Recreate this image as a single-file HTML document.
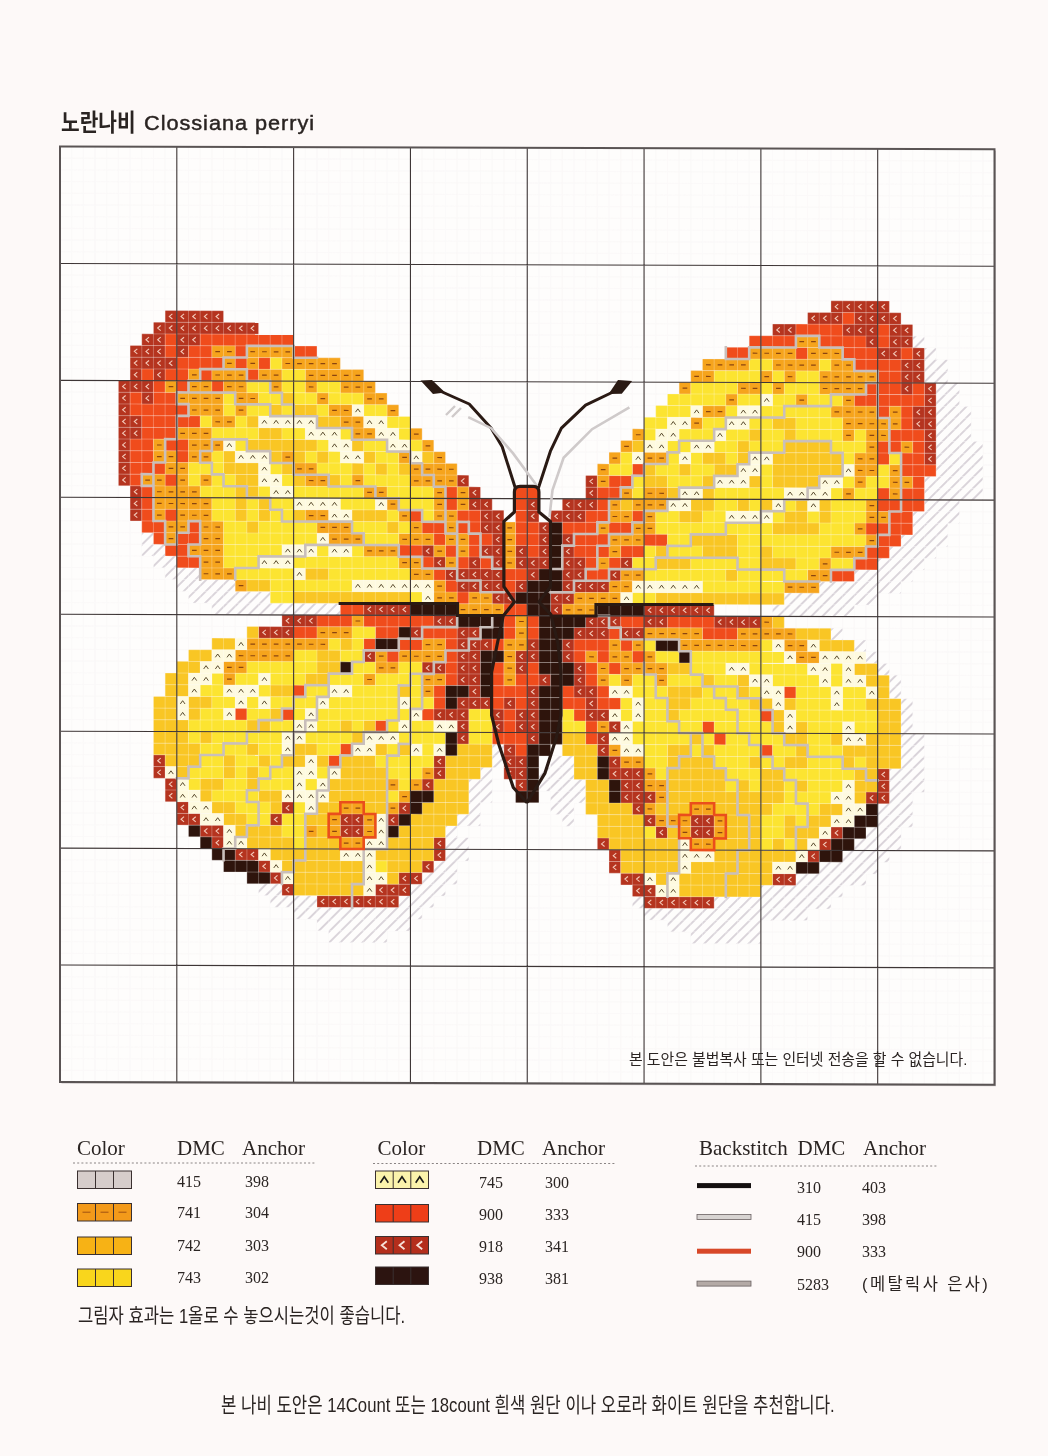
<!DOCTYPE html>
<html><head><meta charset="utf-8">
<style>
html,body{margin:0;padding:0;}
body{width:1048px;height:1456px;background:#fdf9f8;position:relative;overflow:hidden;}
.t{position:absolute;white-space:nowrap;color:#2a2422;}
.kr{font-family:"Liberation Sans","Noto Sans CJK KR",sans-serif;}
.stk{-webkit-text-stroke:0.45px #2a2422;}
.sf{font-family:"Liberation Serif","Noto Serif CJK SC",serif;}
svg{position:absolute;left:0;top:0;}
</style></head><body>
<svg width="1048" height="1456" viewBox="0 0 1048 1456">
<defs>
<pattern id="hp" patternUnits="userSpaceOnUse" width="7.8" height="7.8" patternTransform="rotate(-45)">
<rect width="7.8" height="7.8" fill="#fefdfc"/><line x1="0" y1="3.9" x2="7.8" y2="3.9" stroke="#cfc8d0" stroke-width="1.5"/>
</pattern>
</defs>
<g transform="translate(60.0,146.5) matrix(1,0.003,0,1,0,0)">
<rect x="1.5" y="1.5" width="934.50" height="935.50" fill="#c9c4c4"/>
<rect x="0" y="0" width="934.50" height="935.50" fill="#fefdfc"/>
<path d="M11.68 0V935.50M0 11.69H934.50M23.36 0V935.50M0 23.39H934.50M35.04 0V935.50M0 35.08H934.50M46.73 0V935.50M0 46.77H934.50M58.41 0V935.50M0 58.47H934.50M70.09 0V935.50M0 70.16H934.50M81.77 0V935.50M0 81.86H934.50M93.45 0V935.50M0 93.55H934.50M105.13 0V935.50M0 105.24H934.50M128.49 0V935.50M0 128.63H934.50M140.18 0V935.50M0 140.32H934.50M151.86 0V935.50M0 152.02H934.50M163.54 0V935.50M0 163.71H934.50M175.22 0V935.50M0 175.41H934.50M186.90 0V935.50M0 187.10H934.50M198.58 0V935.50M0 198.79H934.50M210.26 0V935.50M0 210.49H934.50M221.94 0V935.50M0 222.18H934.50M245.31 0V935.50M0 245.57H934.50M256.99 0V935.50M0 257.26H934.50M268.67 0V935.50M0 268.96H934.50M280.35 0V935.50M0 280.65H934.50M292.03 0V935.50M0 292.34H934.50M303.71 0V935.50M0 304.04H934.50M315.39 0V935.50M0 315.73H934.50M327.07 0V935.50M0 327.43H934.50M338.76 0V935.50M0 339.12H934.50M362.12 0V935.50M0 362.51H934.50M373.80 0V935.50M0 374.20H934.50M385.48 0V935.50M0 385.89H934.50M397.16 0V935.50M0 397.59H934.50M408.84 0V935.50M0 409.28H934.50M420.53 0V935.50M0 420.97H934.50M432.21 0V935.50M0 432.67H934.50M443.89 0V935.50M0 444.36H934.50M455.57 0V935.50M0 456.06H934.50M478.93 0V935.50M0 479.44H934.50M490.61 0V935.50M0 491.14H934.50M502.29 0V935.50M0 502.83H934.50M513.98 0V935.50M0 514.52H934.50M525.66 0V935.50M0 526.22H934.50M537.34 0V935.50M0 537.91H934.50M549.02 0V935.50M0 549.61H934.50M560.70 0V935.50M0 561.30H934.50M572.38 0V935.50M0 572.99H934.50M595.74 0V935.50M0 596.38H934.50M607.43 0V935.50M0 608.07H934.50M619.11 0V935.50M0 619.77H934.50M630.79 0V935.50M0 631.46H934.50M642.47 0V935.50M0 643.16H934.50M654.15 0V935.50M0 654.85H934.50M665.83 0V935.50M0 666.54H934.50M677.51 0V935.50M0 678.24H934.50M689.19 0V935.50M0 689.93H934.50M712.56 0V935.50M0 713.32H934.50M724.24 0V935.50M0 725.01H934.50M735.92 0V935.50M0 736.71H934.50M747.60 0V935.50M0 748.40H934.50M759.28 0V935.50M0 760.09H934.50M770.96 0V935.50M0 771.79H934.50M782.64 0V935.50M0 783.48H934.50M794.33 0V935.50M0 795.17H934.50M806.01 0V935.50M0 806.87H934.50M829.37 0V935.50M0 830.26H934.50M841.05 0V935.50M0 841.95H934.50M852.73 0V935.50M0 853.64H934.50M864.41 0V935.50M0 865.34H934.50M876.09 0V935.50M0 877.03H934.50M887.77 0V935.50M0 888.73H934.50M899.46 0V935.50M0 900.42H934.50M911.14 0V935.50M0 912.11H934.50M922.82 0V935.50M0 923.81H934.50" stroke="#f6f3f3" stroke-width="0.6" fill="none"/>
<g fill="url(#hp)"><rect x="852.73" y="187.10" width="11.68" height="11.69"/><rect x="864.41" y="198.79" width="11.68" height="11.69"/><rect x="864.41" y="210.49" width="23.36" height="11.69"/><rect x="864.41" y="222.18" width="23.36" height="11.69"/><rect x="876.09" y="233.88" width="23.36" height="11.69"/><rect x="876.09" y="245.57" width="23.36" height="11.69"/><rect x="876.09" y="257.26" width="35.04" height="11.69"/><rect x="876.09" y="268.96" width="35.04" height="11.69"/><rect x="876.09" y="280.65" width="35.04" height="11.69"/><rect x="876.09" y="292.34" width="46.73" height="11.69"/><rect x="876.09" y="304.04" width="46.73" height="11.69"/><rect x="876.09" y="315.73" width="46.73" height="11.69"/><rect x="864.41" y="327.43" width="58.41" height="11.69"/><rect x="864.41" y="339.12" width="58.41" height="11.69"/><rect x="864.41" y="350.81" width="35.04" height="11.69"/><rect x="852.73" y="362.51" width="46.73" height="11.69"/><rect x="852.73" y="374.20" width="35.04" height="11.69"/><rect x="81.77" y="385.89" width="11.68" height="11.69"/><rect x="841.05" y="385.89" width="46.72" height="11.69"/><rect x="81.77" y="397.59" width="23.36" height="11.69"/><rect x="829.37" y="397.59" width="46.73" height="11.69"/><rect x="93.45" y="409.28" width="23.36" height="11.69"/><rect x="817.69" y="409.28" width="46.73" height="11.69"/><rect x="105.13" y="420.97" width="35.04" height="11.69"/><rect x="794.33" y="420.97" width="58.41" height="11.69"/><rect x="116.81" y="432.67" width="58.41" height="11.69"/><rect x="759.28" y="432.67" width="81.77" height="11.69"/><rect x="128.49" y="444.36" width="81.77" height="11.69"/><rect x="724.24" y="444.36" width="93.45" height="11.69"/><rect x="151.86" y="456.06" width="128.49" height="11.69"/><rect x="712.56" y="456.06" width="81.77" height="11.69"/><rect x="770.96" y="479.44" width="11.68" height="11.69"/><rect x="794.33" y="491.14" width="11.68" height="11.69"/><rect x="806.01" y="502.83" width="11.68" height="11.69"/><rect x="817.69" y="514.52" width="11.68" height="11.69"/><rect x="829.37" y="526.22" width="11.68" height="11.69"/><rect x="829.37" y="537.91" width="11.68" height="11.69"/><rect x="841.05" y="549.61" width="11.68" height="11.69"/><rect x="841.05" y="561.30" width="11.68" height="11.69"/><rect x="841.05" y="572.99" width="11.68" height="11.69"/><rect x="841.05" y="584.69" width="23.36" height="11.69"/><rect x="432.21" y="596.38" width="11.68" height="11.69"/><rect x="841.05" y="596.38" width="23.36" height="11.69"/><rect x="432.21" y="608.07" width="11.68" height="11.69"/><rect x="490.61" y="608.07" width="23.36" height="11.69"/><rect x="841.05" y="608.07" width="23.36" height="11.69"/><rect x="420.53" y="619.77" width="11.68" height="11.69"/><rect x="478.93" y="619.77" width="35.04" height="11.69"/><rect x="829.37" y="619.77" width="35.04" height="11.69"/><rect x="408.84" y="631.46" width="23.36" height="11.69"/><rect x="478.93" y="631.46" width="46.72" height="11.69"/><rect x="829.37" y="631.46" width="35.04" height="11.69"/><rect x="408.84" y="643.16" width="23.36" height="11.69"/><rect x="490.61" y="643.16" width="35.04" height="11.69"/><rect x="829.37" y="643.16" width="23.36" height="11.69"/><rect x="408.84" y="654.85" width="11.68" height="11.69"/><rect x="490.61" y="654.85" width="23.36" height="11.69"/><rect x="817.69" y="654.85" width="35.04" height="11.69"/><rect x="397.16" y="666.54" width="23.36" height="11.69"/><rect x="502.29" y="666.54" width="11.68" height="11.69"/><rect x="817.69" y="666.54" width="35.04" height="11.69"/><rect x="385.48" y="678.24" width="11.68" height="11.69"/><rect x="806.01" y="678.24" width="35.04" height="11.69"/><rect x="385.48" y="689.93" width="23.36" height="11.69"/><rect x="794.33" y="689.93" width="46.73" height="11.69"/><rect x="385.48" y="701.62" width="23.36" height="11.69"/><rect x="782.64" y="701.62" width="46.72" height="11.69"/><rect x="373.80" y="713.32" width="23.36" height="11.69"/><rect x="759.28" y="713.32" width="58.41" height="11.69"/><rect x="362.12" y="725.01" width="35.04" height="11.69"/><rect x="735.92" y="725.01" width="70.09" height="11.69"/><rect x="198.58" y="736.71" width="23.36" height="11.69"/><rect x="350.44" y="736.71" width="35.04" height="11.69"/><rect x="700.88" y="736.71" width="81.77" height="11.69"/><rect x="210.26" y="748.40" width="46.72" height="11.69"/><rect x="338.76" y="748.40" width="35.04" height="11.69"/><rect x="572.38" y="748.40" width="11.68" height="11.69"/><rect x="654.15" y="748.40" width="116.81" height="11.69"/><rect x="233.62" y="760.09" width="128.49" height="11.69"/><rect x="584.06" y="760.09" width="163.54" height="11.69"/><rect x="256.99" y="771.79" width="93.45" height="11.69"/><rect x="607.43" y="771.79" width="93.45" height="11.69"/><rect x="268.67" y="783.48" width="58.41" height="11.69"/><rect x="630.79" y="783.48" width="70.09" height="11.69"/></g>
<g fill="#b5341f"><rect x="105.13" y="163.71" width="58.41" height="11.69"/><rect x="747.60" y="163.71" width="35.04" height="11.69"/><rect x="794.33" y="163.71" width="46.73" height="11.69"/><rect x="93.45" y="175.41" width="105.13" height="11.69"/><rect x="712.56" y="175.41" width="23.36" height="11.69"/><rect x="782.64" y="175.41" width="35.04" height="11.69"/><rect x="829.37" y="175.41" width="23.36" height="11.69"/><rect x="81.77" y="187.10" width="23.36" height="11.69"/><rect x="116.81" y="187.10" width="23.36" height="11.69"/><rect x="806.01" y="187.10" width="11.68" height="11.69"/><rect x="829.37" y="187.10" width="23.36" height="11.69"/><rect x="70.09" y="198.79" width="35.04" height="11.69"/><rect x="116.81" y="198.79" width="11.68" height="11.69"/><rect x="817.69" y="198.79" width="23.36" height="11.69"/><rect x="852.73" y="198.79" width="11.68" height="11.69"/><rect x="70.09" y="210.49" width="46.72" height="11.69"/><rect x="841.05" y="210.49" width="23.36" height="11.69"/><rect x="70.09" y="222.18" width="11.68" height="11.69"/><rect x="93.45" y="222.18" width="11.68" height="11.69"/><rect x="841.05" y="222.18" width="23.36" height="11.69"/><rect x="58.41" y="233.88" width="35.04" height="11.69"/><rect x="841.05" y="233.88" width="11.68" height="11.69"/><rect x="864.41" y="233.88" width="11.68" height="11.69"/><rect x="58.41" y="245.57" width="11.68" height="11.69"/><rect x="81.77" y="245.57" width="11.68" height="11.69"/><rect x="864.41" y="245.57" width="11.68" height="11.69"/><rect x="58.41" y="257.26" width="11.68" height="11.69"/><rect x="852.73" y="257.26" width="23.36" height="11.69"/><rect x="58.41" y="268.96" width="23.36" height="11.69"/><rect x="852.73" y="268.96" width="23.36" height="11.69"/><rect x="58.41" y="280.65" width="23.36" height="11.69"/><rect x="864.41" y="280.65" width="11.68" height="11.69"/><rect x="58.41" y="292.34" width="11.68" height="11.69"/><rect x="864.41" y="292.34" width="11.68" height="11.69"/><rect x="58.41" y="304.04" width="11.68" height="11.69"/><rect x="864.41" y="304.04" width="11.68" height="11.69"/><rect x="58.41" y="315.73" width="11.68" height="11.69"/><rect x="58.41" y="327.43" width="11.68" height="11.69"/><rect x="397.16" y="327.43" width="11.68" height="11.69"/><rect x="525.66" y="327.43" width="11.68" height="11.69"/><rect x="70.09" y="339.12" width="11.68" height="11.69"/><rect x="408.84" y="339.12" width="11.68" height="11.69"/><rect x="525.66" y="339.12" width="11.68" height="11.69"/><rect x="770.96" y="152.02" width="58.41" height="11.69"/><rect x="70.09" y="350.81" width="11.68" height="11.69"/><rect x="408.84" y="350.81" width="23.36" height="11.69"/><rect x="467.25" y="350.81" width="11.68" height="11.69"/><rect x="502.29" y="350.81" width="35.04" height="11.69"/><rect x="70.09" y="362.51" width="11.68" height="11.69"/><rect x="420.53" y="362.51" width="23.36" height="11.69"/><rect x="467.25" y="362.51" width="11.68" height="11.69"/><rect x="490.61" y="362.51" width="35.04" height="11.69"/><rect x="420.53" y="374.20" width="23.36" height="11.69"/><rect x="478.93" y="374.20" width="11.68" height="11.69"/><rect x="432.21" y="385.89" width="11.68" height="11.69"/><rect x="478.93" y="385.89" width="11.68" height="11.69"/><rect x="502.29" y="385.89" width="11.68" height="11.69"/><rect x="362.12" y="397.59" width="11.68" height="11.69"/><rect x="420.53" y="397.59" width="23.36" height="11.69"/><rect x="455.57" y="397.59" width="11.68" height="11.69"/><rect x="478.93" y="397.59" width="11.68" height="11.69"/><rect x="502.29" y="397.59" width="11.68" height="11.69"/><rect x="373.80" y="409.28" width="11.68" height="11.69"/><rect x="408.84" y="409.28" width="11.68" height="11.69"/><rect x="432.21" y="409.28" width="11.68" height="11.69"/><rect x="455.57" y="409.28" width="35.04" height="11.69"/><rect x="502.29" y="409.28" width="23.36" height="11.69"/><rect x="560.70" y="409.28" width="11.68" height="11.69"/><rect x="385.48" y="420.97" width="58.41" height="11.69"/><rect x="467.25" y="420.97" width="11.68" height="11.69"/><rect x="502.29" y="420.97" width="23.36" height="11.69"/><rect x="549.02" y="420.97" width="11.68" height="11.69"/><rect x="397.16" y="432.67" width="46.72" height="11.69"/><rect x="455.57" y="432.67" width="11.68" height="11.69"/><rect x="502.29" y="432.67" width="46.73" height="11.69"/><rect x="432.21" y="444.36" width="23.36" height="11.69"/><rect x="490.61" y="444.36" width="23.36" height="11.69"/><rect x="303.71" y="456.06" width="46.72" height="11.69"/><rect x="490.61" y="456.06" width="11.68" height="11.69"/><rect x="584.06" y="456.06" width="70.09" height="11.69"/><rect x="221.94" y="467.75" width="35.04" height="11.69"/><rect x="373.80" y="467.75" width="23.36" height="11.69"/><rect x="525.66" y="467.75" width="35.04" height="11.69"/><rect x="584.06" y="467.75" width="23.36" height="11.69"/><rect x="654.15" y="467.75" width="46.73" height="11.69"/><rect x="198.58" y="479.44" width="35.04" height="11.69"/><rect x="350.44" y="479.44" width="11.68" height="11.69"/><rect x="397.16" y="479.44" width="23.36" height="11.69"/><rect x="513.98" y="479.44" width="35.04" height="11.69"/><rect x="560.70" y="479.44" width="23.36" height="11.69"/><rect x="397.16" y="491.14" width="35.04" height="11.69"/><rect x="467.25" y="491.14" width="11.68" height="11.69"/><rect x="502.29" y="491.14" width="11.68" height="11.69"/><rect x="303.71" y="502.83" width="11.68" height="11.69"/><rect x="397.16" y="502.83" width="23.36" height="11.69"/><rect x="455.57" y="502.83" width="23.36" height="11.69"/><rect x="502.29" y="502.83" width="11.68" height="11.69"/><rect x="362.12" y="514.52" width="23.36" height="11.69"/><rect x="397.16" y="514.52" width="23.36" height="11.69"/><rect x="455.57" y="514.52" width="11.68" height="11.69"/><rect x="513.98" y="514.52" width="11.68" height="11.69"/><rect x="397.16" y="526.22" width="23.36" height="11.69"/><rect x="478.93" y="526.22" width="11.68" height="11.69"/><rect x="513.98" y="526.22" width="11.68" height="11.69"/><rect x="408.84" y="537.91" width="11.68" height="11.69"/><rect x="467.25" y="537.91" width="11.68" height="11.69"/><rect x="513.98" y="537.91" width="23.36" height="11.69"/><rect x="397.16" y="549.61" width="35.04" height="11.69"/><rect x="443.89" y="549.61" width="11.68" height="11.69"/><rect x="467.25" y="549.61" width="11.68" height="11.69"/><rect x="525.66" y="549.61" width="11.68" height="11.69"/><rect x="373.80" y="561.30" width="35.04" height="11.69"/><rect x="432.21" y="561.30" width="11.68" height="11.69"/><rect x="455.57" y="561.30" width="23.36" height="11.69"/><rect x="525.66" y="561.30" width="23.36" height="11.69"/><rect x="397.16" y="572.99" width="11.68" height="11.69"/><rect x="432.21" y="572.99" width="11.68" height="11.69"/><rect x="455.57" y="572.99" width="23.36" height="11.69"/><rect x="549.02" y="572.99" width="11.68" height="11.69"/><rect x="397.16" y="584.69" width="11.68" height="11.69"/><rect x="467.25" y="584.69" width="11.68" height="11.69"/><rect x="537.34" y="584.69" width="11.68" height="11.69"/><rect x="443.89" y="596.38" width="11.68" height="11.69"/><rect x="537.34" y="596.38" width="11.68" height="11.69"/><rect x="93.45" y="608.07" width="11.68" height="11.69"/><rect x="373.80" y="608.07" width="11.68" height="11.69"/><rect x="443.89" y="608.07" width="23.36" height="11.69"/><rect x="549.02" y="608.07" width="11.68" height="11.69"/><rect x="93.45" y="619.77" width="11.68" height="11.69"/><rect x="373.80" y="619.77" width="11.68" height="11.69"/><rect x="443.89" y="619.77" width="23.36" height="11.69"/><rect x="549.02" y="619.77" width="35.04" height="11.69"/><rect x="817.69" y="619.77" width="11.68" height="11.69"/><rect x="105.13" y="631.46" width="11.68" height="11.69"/><rect x="362.12" y="631.46" width="11.68" height="11.69"/><rect x="455.57" y="631.46" width="11.68" height="11.69"/><rect x="560.70" y="631.46" width="23.36" height="11.69"/><rect x="817.69" y="631.46" width="11.68" height="11.69"/><rect x="105.13" y="643.16" width="11.68" height="11.69"/><rect x="560.70" y="643.16" width="35.04" height="11.69"/><rect x="806.01" y="643.16" width="23.36" height="11.69"/><rect x="116.81" y="654.85" width="11.68" height="11.69"/><rect x="221.94" y="654.85" width="11.68" height="11.69"/><rect x="338.76" y="654.85" width="11.68" height="11.69"/><rect x="572.38" y="654.85" width="11.68" height="11.69"/><rect x="116.81" y="666.54" width="23.36" height="11.69"/><rect x="210.26" y="666.54" width="11.68" height="11.69"/><rect x="280.35" y="666.54" width="23.36" height="11.69"/><rect x="327.07" y="666.54" width="11.68" height="11.69"/><rect x="584.06" y="666.54" width="11.68" height="11.69"/><rect x="630.79" y="666.54" width="23.36" height="11.69"/><rect x="140.18" y="678.24" width="23.36" height="11.69"/><rect x="280.35" y="678.24" width="23.36" height="11.69"/><rect x="595.74" y="678.24" width="11.68" height="11.69"/><rect x="630.79" y="678.24" width="23.36" height="11.69"/><rect x="770.96" y="678.24" width="11.68" height="11.69"/><rect x="151.86" y="689.93" width="11.68" height="11.69"/><rect x="373.80" y="689.93" width="11.68" height="11.69"/><rect x="537.34" y="689.93" width="11.68" height="11.69"/><rect x="759.28" y="689.93" width="11.68" height="11.69"/><rect x="175.22" y="701.62" width="23.36" height="11.69"/><rect x="373.80" y="701.62" width="11.68" height="11.69"/><rect x="549.02" y="701.62" width="11.68" height="11.69"/><rect x="747.60" y="701.62" width="11.68" height="11.69"/><rect x="198.58" y="713.32" width="11.68" height="11.69"/><rect x="362.12" y="713.32" width="11.68" height="11.69"/><rect x="549.02" y="713.32" width="11.68" height="11.69"/><rect x="210.26" y="725.01" width="11.68" height="11.69"/><rect x="338.76" y="725.01" width="23.36" height="11.69"/><rect x="560.70" y="725.01" width="23.36" height="11.69"/><rect x="712.56" y="725.01" width="23.36" height="11.69"/><rect x="221.94" y="736.71" width="11.68" height="11.69"/><rect x="315.39" y="736.71" width="35.04" height="11.69"/><rect x="572.38" y="736.71" width="23.36" height="11.69"/><rect x="256.99" y="748.40" width="81.77" height="11.69"/><rect x="584.06" y="748.40" width="70.09" height="11.69"/></g>
<g fill="#f04c1c"><rect x="782.64" y="163.71" width="11.68" height="11.69"/><rect x="735.92" y="175.41" width="46.73" height="11.69"/><rect x="817.69" y="175.41" width="11.68" height="11.69"/><rect x="105.13" y="187.10" width="11.68" height="11.69"/><rect x="140.18" y="187.10" width="93.45" height="11.69"/><rect x="689.19" y="187.10" width="46.73" height="11.69"/><rect x="759.28" y="187.10" width="46.73" height="11.69"/><rect x="817.69" y="187.10" width="11.68" height="11.69"/><rect x="105.13" y="198.79" width="11.68" height="11.69"/><rect x="128.49" y="198.79" width="23.36" height="11.69"/><rect x="175.22" y="198.79" width="11.68" height="11.69"/><rect x="233.62" y="198.79" width="23.36" height="11.69"/><rect x="665.83" y="198.79" width="23.36" height="11.69"/><rect x="735.92" y="198.79" width="11.68" height="11.69"/><rect x="782.64" y="198.79" width="35.04" height="11.69"/><rect x="841.05" y="198.79" width="11.68" height="11.69"/><rect x="116.81" y="210.49" width="46.72" height="11.69"/><rect x="175.22" y="210.49" width="11.68" height="11.69"/><rect x="198.58" y="210.49" width="11.68" height="11.69"/><rect x="794.33" y="210.49" width="46.73" height="11.69"/><rect x="81.77" y="222.18" width="11.68" height="11.69"/><rect x="105.13" y="222.18" width="23.36" height="11.69"/><rect x="140.18" y="222.18" width="11.68" height="11.69"/><rect x="186.90" y="222.18" width="11.68" height="11.69"/><rect x="817.69" y="222.18" width="23.36" height="11.69"/><rect x="93.45" y="233.88" width="11.68" height="11.69"/><rect x="116.81" y="233.88" width="11.68" height="11.69"/><rect x="151.86" y="233.88" width="11.68" height="11.69"/><rect x="806.01" y="233.88" width="35.04" height="11.69"/><rect x="852.73" y="233.88" width="11.68" height="11.69"/><rect x="70.09" y="245.57" width="11.68" height="11.69"/><rect x="93.45" y="245.57" width="23.36" height="11.69"/><rect x="794.33" y="245.57" width="70.09" height="11.69"/><rect x="70.09" y="257.26" width="58.41" height="11.69"/><rect x="817.69" y="257.26" width="11.68" height="11.69"/><rect x="841.05" y="257.26" width="11.68" height="11.69"/><rect x="81.77" y="268.96" width="58.41" height="11.69"/><rect x="841.05" y="268.96" width="11.68" height="11.69"/><rect x="81.77" y="280.65" width="35.04" height="11.69"/><rect x="829.37" y="280.65" width="35.04" height="11.69"/><rect x="70.09" y="292.34" width="23.36" height="11.69"/><rect x="105.13" y="292.34" width="23.36" height="11.69"/><rect x="817.69" y="292.34" width="23.36" height="11.69"/><rect x="852.73" y="292.34" width="11.68" height="11.69"/><rect x="70.09" y="304.04" width="23.36" height="11.69"/><rect x="116.81" y="304.04" width="11.68" height="11.69"/><rect x="817.69" y="304.04" width="11.68" height="11.69"/><rect x="841.05" y="304.04" width="23.36" height="11.69"/><rect x="70.09" y="315.73" width="35.04" height="11.69"/><rect x="572.38" y="315.73" width="11.68" height="11.69"/><rect x="841.05" y="315.73" width="35.04" height="11.69"/><rect x="70.09" y="327.43" width="11.68" height="11.69"/><rect x="105.13" y="327.43" width="11.68" height="11.69"/><rect x="549.02" y="327.43" width="23.36" height="11.69"/><rect x="852.73" y="327.43" width="11.68" height="11.69"/><rect x="81.77" y="339.12" width="11.68" height="11.69"/><rect x="385.48" y="339.12" width="11.68" height="11.69"/><rect x="455.57" y="339.12" width="23.36" height="11.69"/><rect x="537.34" y="339.12" width="23.36" height="11.69"/><rect x="817.69" y="339.12" width="11.68" height="11.69"/><rect x="841.05" y="339.12" width="23.36" height="11.69"/><rect x="81.77" y="350.81" width="11.68" height="11.69"/><rect x="385.48" y="350.81" width="11.68" height="11.69"/><rect x="455.57" y="350.81" width="11.68" height="11.69"/><rect x="537.34" y="350.81" width="11.68" height="11.69"/><rect x="817.69" y="350.81" width="46.73" height="11.69"/><rect x="81.77" y="362.51" width="11.68" height="11.69"/><rect x="105.13" y="362.51" width="11.68" height="11.69"/><rect x="350.44" y="362.51" width="11.68" height="11.69"/><rect x="397.16" y="362.51" width="23.36" height="11.69"/><rect x="455.57" y="362.51" width="11.68" height="11.69"/><rect x="525.66" y="362.51" width="23.36" height="11.69"/><rect x="572.38" y="362.51" width="11.68" height="11.69"/><rect x="829.37" y="362.51" width="23.36" height="11.69"/><rect x="81.77" y="374.20" width="23.36" height="11.69"/><rect x="128.49" y="374.20" width="11.68" height="11.69"/><rect x="362.12" y="374.20" width="23.36" height="11.69"/><rect x="397.16" y="374.20" width="23.36" height="11.69"/><rect x="455.57" y="374.20" width="23.36" height="11.69"/><rect x="502.29" y="374.20" width="35.04" height="11.69"/><rect x="549.02" y="374.20" width="23.36" height="11.69"/><rect x="806.01" y="374.20" width="46.73" height="11.69"/><rect x="93.45" y="385.89" width="11.68" height="11.69"/><rect x="116.81" y="385.89" width="23.36" height="11.69"/><rect x="373.80" y="385.89" width="11.68" height="11.69"/><rect x="408.84" y="385.89" width="23.36" height="11.69"/><rect x="455.57" y="385.89" width="23.36" height="11.69"/><rect x="513.98" y="385.89" width="35.04" height="11.69"/><rect x="584.06" y="385.89" width="23.36" height="11.69"/><rect x="817.69" y="385.89" width="23.36" height="11.69"/><rect x="105.13" y="397.59" width="23.36" height="11.69"/><rect x="338.76" y="397.59" width="23.36" height="11.69"/><rect x="385.48" y="397.59" width="11.68" height="11.69"/><rect x="408.84" y="397.59" width="11.68" height="11.69"/><rect x="467.25" y="397.59" width="11.68" height="11.69"/><rect x="513.98" y="397.59" width="35.04" height="11.69"/><rect x="560.70" y="397.59" width="23.36" height="11.69"/><rect x="806.01" y="397.59" width="23.36" height="11.69"/><rect x="116.81" y="409.28" width="23.36" height="11.69"/><rect x="362.12" y="409.28" width="11.68" height="11.69"/><rect x="397.16" y="409.28" width="11.68" height="11.69"/><rect x="420.53" y="409.28" width="11.68" height="11.69"/><rect x="525.66" y="409.28" width="11.68" height="11.69"/><rect x="549.02" y="409.28" width="11.68" height="11.69"/><rect x="794.33" y="409.28" width="23.36" height="11.69"/><rect x="373.80" y="420.97" width="11.68" height="11.69"/><rect x="443.89" y="420.97" width="23.36" height="11.69"/><rect x="525.66" y="420.97" width="23.36" height="11.69"/><rect x="770.96" y="420.97" width="23.36" height="11.69"/><rect x="385.48" y="432.67" width="11.68" height="11.69"/><rect x="443.89" y="432.67" width="11.68" height="11.69"/><rect x="397.16" y="444.36" width="11.68" height="11.69"/><rect x="280.35" y="456.06" width="23.36" height="11.69"/><rect x="443.89" y="456.06" width="23.36" height="11.69"/><rect x="256.99" y="467.75" width="35.04" height="11.69"/><rect x="303.71" y="467.75" width="70.09" height="11.69"/><rect x="443.89" y="467.75" width="11.68" height="11.69"/><rect x="467.25" y="467.75" width="11.68" height="11.69"/><rect x="560.70" y="467.75" width="23.36" height="11.69"/><rect x="607.43" y="467.75" width="46.72" height="11.69"/><rect x="233.62" y="479.44" width="23.36" height="11.69"/><rect x="315.39" y="479.44" width="23.36" height="11.69"/><rect x="362.12" y="479.44" width="35.04" height="11.69"/><rect x="443.89" y="479.44" width="11.68" height="11.69"/><rect x="467.25" y="479.44" width="11.68" height="11.69"/><rect x="549.02" y="479.44" width="11.68" height="11.69"/><rect x="642.47" y="479.44" width="35.04" height="11.69"/><rect x="303.71" y="491.14" width="11.68" height="11.69"/><rect x="338.76" y="491.14" width="23.36" height="11.69"/><rect x="385.48" y="491.14" width="11.68" height="11.69"/><rect x="432.21" y="491.14" width="11.68" height="11.69"/><rect x="513.98" y="491.14" width="35.04" height="11.69"/><rect x="560.70" y="491.14" width="11.68" height="11.69"/><rect x="327.07" y="502.83" width="11.68" height="11.69"/><rect x="385.48" y="502.83" width="11.68" height="11.69"/><rect x="513.98" y="502.83" width="11.68" height="11.69"/><rect x="537.34" y="502.83" width="11.68" height="11.69"/><rect x="572.38" y="502.83" width="11.68" height="11.69"/><rect x="385.48" y="514.52" width="11.68" height="11.69"/><rect x="432.21" y="514.52" width="11.68" height="11.69"/><rect x="467.25" y="514.52" width="11.68" height="11.69"/><rect x="525.66" y="514.52" width="11.68" height="11.69"/><rect x="549.02" y="514.52" width="11.68" height="11.69"/><rect x="385.48" y="526.22" width="11.68" height="11.69"/><rect x="432.21" y="526.22" width="11.68" height="11.69"/><rect x="455.57" y="526.22" width="23.36" height="11.69"/><rect x="525.66" y="526.22" width="11.68" height="11.69"/><rect x="233.62" y="537.91" width="11.68" height="11.69"/><rect x="373.80" y="537.91" width="11.68" height="11.69"/><rect x="432.21" y="537.91" width="35.04" height="11.69"/><rect x="502.29" y="537.91" width="11.68" height="11.69"/><rect x="537.34" y="537.91" width="11.68" height="11.69"/><rect x="724.24" y="537.91" width="11.68" height="11.69"/><rect x="373.80" y="549.61" width="11.68" height="11.69"/><rect x="432.21" y="549.61" width="11.68" height="11.69"/><rect x="455.57" y="549.61" width="11.68" height="11.69"/><rect x="502.29" y="549.61" width="23.36" height="11.69"/><rect x="537.34" y="549.61" width="23.36" height="11.69"/><rect x="175.22" y="561.30" width="11.68" height="11.69"/><rect x="221.94" y="561.30" width="11.68" height="11.69"/><rect x="362.12" y="561.30" width="11.68" height="11.69"/><rect x="443.89" y="561.30" width="11.68" height="11.69"/><rect x="513.98" y="561.30" width="11.68" height="11.69"/><rect x="700.88" y="561.30" width="11.68" height="11.69"/><rect x="315.39" y="572.99" width="11.68" height="11.69"/><rect x="443.89" y="572.99" width="11.68" height="11.69"/><rect x="525.66" y="572.99" width="11.68" height="11.69"/><rect x="642.47" y="572.99" width="11.68" height="11.69"/><rect x="432.21" y="584.69" width="35.04" height="11.69"/><rect x="525.66" y="584.69" width="11.68" height="11.69"/><rect x="654.15" y="584.69" width="11.68" height="11.69"/><rect x="280.35" y="596.38" width="11.68" height="11.69"/><rect x="455.57" y="596.38" width="11.68" height="11.69"/><rect x="700.88" y="596.38" width="11.68" height="11.69"/><rect x="268.67" y="608.07" width="11.68" height="11.69"/></g>
<g fill="#f6a41c"><rect x="735.92" y="187.10" width="23.36" height="11.69"/><rect x="151.86" y="198.79" width="23.36" height="11.69"/><rect x="186.90" y="198.79" width="46.72" height="11.69"/><rect x="689.19" y="198.79" width="46.73" height="11.69"/><rect x="747.60" y="198.79" width="35.04" height="11.69"/><rect x="163.54" y="210.49" width="11.68" height="11.69"/><rect x="186.90" y="210.49" width="11.68" height="11.69"/><rect x="221.94" y="210.49" width="58.41" height="11.69"/><rect x="642.47" y="210.49" width="46.73" height="11.69"/><rect x="712.56" y="210.49" width="46.73" height="11.69"/><rect x="770.96" y="210.49" width="23.36" height="11.69"/><rect x="128.49" y="222.18" width="11.68" height="11.69"/><rect x="151.86" y="222.18" width="35.04" height="11.69"/><rect x="198.58" y="222.18" width="23.36" height="11.69"/><rect x="245.31" y="222.18" width="58.41" height="11.69"/><rect x="630.79" y="222.18" width="23.36" height="11.69"/><rect x="700.88" y="222.18" width="11.68" height="11.69"/><rect x="724.24" y="222.18" width="11.68" height="11.69"/><rect x="759.28" y="222.18" width="58.41" height="11.69"/><rect x="105.13" y="233.88" width="11.68" height="11.69"/><rect x="128.49" y="233.88" width="23.36" height="11.69"/><rect x="163.54" y="233.88" width="23.36" height="11.69"/><rect x="210.26" y="233.88" width="11.68" height="11.69"/><rect x="245.31" y="233.88" width="11.68" height="11.69"/><rect x="280.35" y="233.88" width="35.04" height="11.69"/><rect x="619.11" y="233.88" width="11.68" height="11.69"/><rect x="677.51" y="233.88" width="23.36" height="11.69"/><rect x="712.56" y="233.88" width="11.68" height="11.69"/><rect x="759.28" y="233.88" width="46.73" height="11.69"/><rect x="116.81" y="245.57" width="46.72" height="11.69"/><rect x="175.22" y="245.57" width="23.36" height="11.69"/><rect x="256.99" y="245.57" width="11.68" height="11.69"/><rect x="303.71" y="245.57" width="23.36" height="11.69"/><rect x="665.83" y="245.57" width="11.68" height="11.69"/><rect x="735.92" y="245.57" width="11.68" height="11.69"/><rect x="782.64" y="245.57" width="11.68" height="11.69"/><rect x="128.49" y="257.26" width="35.04" height="11.69"/><rect x="175.22" y="257.26" width="11.68" height="11.69"/><rect x="268.67" y="257.26" width="23.36" height="11.69"/><rect x="327.07" y="257.26" width="11.68" height="11.69"/><rect x="642.47" y="257.26" width="23.36" height="11.69"/><rect x="770.96" y="257.26" width="46.73" height="11.69"/><rect x="829.37" y="257.26" width="11.68" height="11.69"/><rect x="151.86" y="268.96" width="23.36" height="11.69"/><rect x="280.35" y="268.96" width="23.36" height="11.69"/><rect x="630.79" y="268.96" width="11.68" height="11.69"/><rect x="782.64" y="268.96" width="58.41" height="11.69"/><rect x="116.81" y="280.65" width="35.04" height="11.69"/><rect x="292.03" y="280.65" width="23.36" height="11.69"/><rect x="350.44" y="280.65" width="11.68" height="11.69"/><rect x="572.38" y="280.65" width="11.68" height="11.69"/><rect x="782.64" y="280.65" width="11.68" height="11.69"/><rect x="806.01" y="280.65" width="23.36" height="11.69"/><rect x="93.45" y="292.34" width="11.68" height="11.69"/><rect x="128.49" y="292.34" width="35.04" height="11.69"/><rect x="362.12" y="292.34" width="11.68" height="11.69"/><rect x="560.70" y="292.34" width="11.68" height="11.69"/><rect x="806.01" y="292.34" width="11.68" height="11.69"/><rect x="841.05" y="292.34" width="11.68" height="11.69"/><rect x="93.45" y="304.04" width="23.36" height="11.69"/><rect x="128.49" y="304.04" width="23.36" height="11.69"/><rect x="221.94" y="304.04" width="11.68" height="11.69"/><rect x="338.76" y="304.04" width="11.68" height="11.69"/><rect x="373.80" y="304.04" width="11.68" height="11.69"/><rect x="549.02" y="304.04" width="11.68" height="11.69"/><rect x="584.06" y="304.04" width="23.36" height="11.69"/><rect x="794.33" y="304.04" width="23.36" height="11.69"/><rect x="105.13" y="315.73" width="23.36" height="11.69"/><rect x="233.62" y="315.73" width="23.36" height="11.69"/><rect x="350.44" y="315.73" width="46.73" height="11.69"/><rect x="537.34" y="315.73" width="11.68" height="11.69"/><rect x="794.33" y="315.73" width="23.36" height="11.69"/><rect x="829.37" y="315.73" width="11.68" height="11.69"/><rect x="81.77" y="327.43" width="23.36" height="11.69"/><rect x="116.81" y="327.43" width="11.68" height="11.69"/><rect x="140.18" y="327.43" width="11.68" height="11.69"/><rect x="245.31" y="327.43" width="23.36" height="11.69"/><rect x="292.03" y="327.43" width="11.68" height="11.69"/><rect x="350.44" y="327.43" width="46.73" height="11.69"/><rect x="537.34" y="327.43" width="11.68" height="11.69"/><rect x="794.33" y="327.43" width="11.68" height="11.69"/><rect x="829.37" y="327.43" width="23.36" height="11.69"/><rect x="93.45" y="339.12" width="46.73" height="11.69"/><rect x="303.71" y="339.12" width="23.36" height="11.69"/><rect x="373.80" y="339.12" width="11.68" height="11.69"/><rect x="397.16" y="339.12" width="11.68" height="11.69"/><rect x="560.70" y="339.12" width="11.68" height="11.69"/><rect x="584.06" y="339.12" width="23.36" height="11.69"/><rect x="782.64" y="339.12" width="11.68" height="11.69"/><rect x="829.37" y="339.12" width="11.68" height="11.69"/><rect x="93.45" y="350.81" width="58.41" height="11.69"/><rect x="327.07" y="350.81" width="11.68" height="11.69"/><rect x="373.80" y="350.81" width="11.68" height="11.69"/><rect x="397.16" y="350.81" width="11.68" height="11.69"/><rect x="549.02" y="350.81" width="11.68" height="11.69"/><rect x="572.38" y="350.81" width="35.04" height="11.69"/><rect x="806.01" y="350.81" width="11.68" height="11.69"/><rect x="93.45" y="362.51" width="11.68" height="11.69"/><rect x="116.81" y="362.51" width="35.04" height="11.69"/><rect x="245.31" y="362.51" width="23.36" height="11.69"/><rect x="338.76" y="362.51" width="11.68" height="11.69"/><rect x="373.80" y="362.51" width="23.36" height="11.69"/><rect x="549.02" y="362.51" width="23.36" height="11.69"/><rect x="584.06" y="362.51" width="11.68" height="11.69"/><rect x="806.01" y="362.51" width="23.36" height="11.69"/><rect x="105.13" y="374.20" width="23.36" height="11.69"/><rect x="140.18" y="374.20" width="23.36" height="11.69"/><rect x="256.99" y="374.20" width="35.04" height="11.69"/><rect x="350.44" y="374.20" width="11.68" height="11.69"/><rect x="385.48" y="374.20" width="11.68" height="11.69"/><rect x="443.89" y="374.20" width="11.68" height="11.69"/><rect x="537.34" y="374.20" width="11.68" height="11.69"/><rect x="572.38" y="374.20" width="23.36" height="11.69"/><rect x="794.33" y="374.20" width="11.68" height="11.69"/><rect x="105.13" y="385.89" width="11.68" height="11.69"/><rect x="140.18" y="385.89" width="23.36" height="11.69"/><rect x="268.67" y="385.89" width="35.04" height="11.69"/><rect x="338.76" y="385.89" width="35.04" height="11.69"/><rect x="385.48" y="385.89" width="23.36" height="11.69"/><rect x="443.89" y="385.89" width="11.68" height="11.69"/><rect x="549.02" y="385.89" width="35.04" height="11.69"/><rect x="806.01" y="385.89" width="11.68" height="11.69"/><rect x="128.49" y="397.59" width="35.04" height="11.69"/><rect x="303.71" y="397.59" width="35.04" height="11.69"/><rect x="373.80" y="397.59" width="11.68" height="11.69"/><rect x="397.16" y="397.59" width="11.68" height="11.69"/><rect x="443.89" y="397.59" width="11.68" height="11.69"/><rect x="549.02" y="397.59" width="11.68" height="11.69"/><rect x="770.96" y="397.59" width="35.04" height="11.69"/><rect x="140.18" y="409.28" width="23.36" height="11.69"/><rect x="338.76" y="409.28" width="23.36" height="11.69"/><rect x="385.48" y="409.28" width="11.68" height="11.69"/><rect x="443.89" y="409.28" width="11.68" height="11.69"/><rect x="537.34" y="409.28" width="11.68" height="11.69"/><rect x="759.28" y="409.28" width="11.68" height="11.69"/><rect x="140.18" y="420.97" width="35.04" height="11.69"/><rect x="350.44" y="420.97" width="23.36" height="11.69"/><rect x="560.70" y="420.97" width="23.36" height="11.69"/><rect x="747.60" y="420.97" width="23.36" height="11.69"/><rect x="175.22" y="432.67" width="11.68" height="11.69"/><rect x="373.80" y="432.67" width="11.68" height="11.69"/><rect x="549.02" y="432.67" width="23.36" height="11.69"/><rect x="724.24" y="432.67" width="35.04" height="11.69"/><rect x="373.80" y="444.36" width="23.36" height="11.69"/><rect x="408.84" y="444.36" width="23.36" height="11.69"/><rect x="513.98" y="444.36" width="46.73" height="11.69"/><rect x="397.16" y="456.06" width="46.72" height="11.69"/><rect x="502.29" y="456.06" width="35.04" height="11.69"/><rect x="292.03" y="467.75" width="11.68" height="11.69"/><rect x="455.57" y="467.75" width="11.68" height="11.69"/><rect x="700.88" y="467.75" width="11.68" height="11.69"/><rect x="256.99" y="479.44" width="35.04" height="11.69"/><rect x="455.57" y="479.44" width="11.68" height="11.69"/><rect x="584.06" y="479.44" width="58.41" height="11.69"/><rect x="677.51" y="479.44" width="58.41" height="11.69"/><rect x="186.90" y="491.14" width="81.77" height="11.69"/><rect x="362.12" y="491.14" width="23.36" height="11.69"/><rect x="443.89" y="491.14" width="23.36" height="11.69"/><rect x="549.02" y="491.14" width="11.68" height="11.69"/><rect x="572.38" y="491.14" width="11.68" height="11.69"/><rect x="619.11" y="491.14" width="81.77" height="11.69"/><rect x="724.24" y="491.14" width="23.36" height="11.69"/><rect x="175.22" y="502.83" width="58.41" height="11.69"/><rect x="315.39" y="502.83" width="11.68" height="11.69"/><rect x="338.76" y="502.83" width="46.72" height="11.69"/><rect x="443.89" y="502.83" width="11.68" height="11.69"/><rect x="525.66" y="502.83" width="11.68" height="11.69"/><rect x="549.02" y="502.83" width="23.36" height="11.69"/><rect x="584.06" y="502.83" width="11.68" height="11.69"/><rect x="735.92" y="502.83" width="23.36" height="11.69"/><rect x="163.54" y="514.52" width="23.36" height="11.69"/><rect x="315.39" y="514.52" width="23.36" height="11.69"/><rect x="443.89" y="514.52" width="11.68" height="11.69"/><rect x="537.34" y="514.52" width="11.68" height="11.69"/><rect x="560.70" y="514.52" width="46.73" height="11.69"/><rect x="163.54" y="526.22" width="11.68" height="11.69"/><rect x="303.71" y="526.22" width="11.68" height="11.69"/><rect x="362.12" y="526.22" width="23.36" height="11.69"/><rect x="443.89" y="526.22" width="11.68" height="11.69"/><rect x="537.34" y="526.22" width="11.68" height="11.69"/><rect x="560.70" y="526.22" width="11.68" height="11.69"/><rect x="595.74" y="526.22" width="11.68" height="11.69"/><rect x="362.12" y="537.91" width="11.68" height="11.69"/><rect x="537.34" y="572.99" width="11.68" height="11.69"/><rect x="549.02" y="596.38" width="11.68" height="11.69"/><rect x="560.70" y="608.07" width="23.36" height="11.69"/><rect x="362.12" y="619.77" width="11.68" height="11.69"/><rect x="584.06" y="619.77" width="11.68" height="11.69"/><rect x="327.07" y="631.46" width="11.68" height="11.69"/><rect x="350.44" y="631.46" width="11.68" height="11.69"/><rect x="584.06" y="631.46" width="23.36" height="11.69"/><rect x="338.76" y="643.16" width="11.68" height="11.69"/><rect x="595.74" y="643.16" width="11.68" height="11.69"/><rect x="280.35" y="654.85" width="23.36" height="11.69"/><rect x="327.07" y="654.85" width="11.68" height="11.69"/><rect x="584.06" y="654.85" width="11.68" height="11.69"/><rect x="630.79" y="654.85" width="23.36" height="11.69"/><rect x="268.67" y="666.54" width="11.68" height="11.69"/><rect x="303.71" y="666.54" width="11.68" height="11.69"/><rect x="595.74" y="666.54" width="35.04" height="11.69"/><rect x="654.15" y="666.54" width="11.68" height="11.69"/><rect x="245.31" y="678.24" width="11.68" height="11.69"/><rect x="268.67" y="678.24" width="11.68" height="11.69"/><rect x="303.71" y="678.24" width="11.68" height="11.69"/><rect x="619.11" y="678.24" width="11.68" height="11.69"/><rect x="654.15" y="678.24" width="11.68" height="11.69"/><rect x="280.35" y="689.93" width="23.36" height="11.69"/><rect x="630.79" y="689.93" width="23.36" height="11.69"/></g>
<g fill="#f9c624"><rect x="221.94" y="245.57" width="11.68" height="11.69"/><rect x="210.26" y="257.26" width="11.68" height="11.69"/><rect x="233.62" y="257.26" width="23.36" height="11.69"/><rect x="186.90" y="268.96" width="11.68" height="11.69"/><rect x="256.99" y="268.96" width="23.36" height="11.69"/><rect x="712.56" y="268.96" width="23.36" height="11.69"/><rect x="198.58" y="280.65" width="23.36" height="11.69"/><rect x="689.19" y="280.65" width="11.68" height="11.69"/><rect x="724.24" y="280.65" width="11.68" height="11.69"/><rect x="186.90" y="292.34" width="70.09" height="11.69"/><rect x="292.03" y="292.34" width="11.68" height="11.69"/><rect x="572.38" y="292.34" width="11.68" height="11.69"/><rect x="677.51" y="292.34" width="11.68" height="11.69"/><rect x="724.24" y="292.34" width="46.72" height="11.69"/><rect x="163.54" y="304.04" width="11.68" height="11.69"/><rect x="210.26" y="304.04" width="11.68" height="11.69"/><rect x="233.62" y="304.04" width="11.68" height="11.69"/><rect x="256.99" y="304.04" width="11.68" height="11.69"/><rect x="303.71" y="304.04" width="11.68" height="11.69"/><rect x="362.12" y="304.04" width="11.68" height="11.69"/><rect x="642.47" y="304.04" width="23.36" height="11.69"/><rect x="677.51" y="304.04" width="11.68" height="11.69"/><rect x="712.56" y="304.04" width="70.09" height="11.69"/><rect x="163.54" y="315.73" width="35.04" height="11.69"/><rect x="221.94" y="315.73" width="11.68" height="11.69"/><rect x="292.03" y="315.73" width="11.68" height="11.69"/><rect x="315.39" y="315.73" width="11.68" height="11.69"/><rect x="338.76" y="315.73" width="11.68" height="11.69"/><rect x="584.06" y="315.73" width="11.68" height="11.69"/><rect x="619.11" y="315.73" width="11.68" height="11.69"/><rect x="654.15" y="315.73" width="23.36" height="11.69"/><rect x="712.56" y="315.73" width="70.09" height="11.69"/><rect x="175.22" y="327.43" width="23.36" height="11.69"/><rect x="233.62" y="327.43" width="11.68" height="11.69"/><rect x="268.67" y="327.43" width="11.68" height="11.69"/><rect x="584.06" y="327.43" width="23.36" height="11.69"/><rect x="642.47" y="327.43" width="11.68" height="11.69"/><rect x="689.19" y="327.43" width="11.68" height="11.69"/><rect x="712.56" y="327.43" width="46.73" height="11.69"/><rect x="175.22" y="339.12" width="23.36" height="11.69"/><rect x="607.43" y="339.12" width="11.68" height="11.69"/><rect x="642.47" y="339.12" width="11.68" height="11.69"/><rect x="175.22" y="350.81" width="11.68" height="11.69"/><rect x="198.58" y="350.81" width="11.68" height="11.69"/><rect x="560.70" y="350.81" width="11.68" height="11.69"/><rect x="630.79" y="350.81" width="23.36" height="11.69"/><rect x="677.51" y="350.81" width="11.68" height="11.69"/><rect x="700.88" y="350.81" width="11.68" height="11.69"/><rect x="735.92" y="350.81" width="11.68" height="11.69"/><rect x="759.28" y="350.81" width="11.68" height="11.69"/><rect x="175.22" y="362.51" width="11.68" height="11.69"/><rect x="198.58" y="362.51" width="11.68" height="11.69"/><rect x="233.62" y="362.51" width="11.68" height="11.69"/><rect x="292.03" y="362.51" width="35.04" height="11.69"/><rect x="619.11" y="362.51" width="23.36" height="11.69"/><rect x="724.24" y="362.51" width="23.36" height="11.69"/><rect x="759.28" y="362.51" width="11.68" height="11.69"/><rect x="186.90" y="374.20" width="11.68" height="11.69"/><rect x="327.07" y="374.20" width="11.68" height="11.69"/><rect x="712.56" y="374.20" width="46.73" height="11.69"/><rect x="630.79" y="385.89" width="46.73" height="11.69"/><rect x="595.74" y="397.59" width="11.68" height="11.69"/><rect x="642.47" y="397.59" width="35.04" height="11.69"/><rect x="700.88" y="397.59" width="11.68" height="11.69"/><rect x="595.74" y="409.28" width="35.04" height="11.69"/><rect x="700.88" y="409.28" width="35.04" height="11.69"/><rect x="245.31" y="420.97" width="23.36" height="11.69"/><rect x="665.83" y="420.97" width="11.68" height="11.69"/><rect x="186.90" y="432.67" width="23.36" height="11.69"/><rect x="233.62" y="444.36" width="116.81" height="11.69"/><rect x="595.74" y="444.36" width="128.49" height="11.69"/><rect x="712.56" y="467.75" width="11.68" height="11.69"/><rect x="186.90" y="479.44" width="11.68" height="11.69"/><rect x="735.92" y="479.44" width="35.04" height="11.69"/><rect x="151.86" y="491.14" width="23.36" height="11.69"/><rect x="280.35" y="491.14" width="11.68" height="11.69"/><rect x="759.28" y="491.14" width="35.04" height="11.69"/><rect x="128.49" y="502.83" width="23.36" height="11.69"/><rect x="256.99" y="502.83" width="23.36" height="11.69"/><rect x="116.81" y="514.52" width="23.36" height="11.69"/><rect x="256.99" y="514.52" width="23.36" height="11.69"/><rect x="607.43" y="514.52" width="23.36" height="11.69"/><rect x="794.33" y="514.52" width="23.36" height="11.69"/><rect x="105.13" y="526.22" width="23.36" height="11.69"/><rect x="245.31" y="526.22" width="23.36" height="11.69"/><rect x="642.47" y="526.22" width="11.68" height="11.69"/><rect x="677.51" y="526.22" width="11.68" height="11.69"/><rect x="806.01" y="526.22" width="23.36" height="11.69"/><rect x="105.13" y="537.91" width="23.36" height="11.69"/><rect x="210.26" y="537.91" width="23.36" height="11.69"/><rect x="338.76" y="537.91" width="11.68" height="11.69"/><rect x="607.43" y="537.91" width="35.04" height="11.69"/><rect x="677.51" y="537.91" width="11.68" height="11.69"/><rect x="817.69" y="537.91" width="11.68" height="11.69"/><rect x="93.45" y="549.61" width="23.36" height="11.69"/><rect x="128.49" y="549.61" width="23.36" height="11.69"/><rect x="607.43" y="549.61" width="23.36" height="11.69"/><rect x="689.19" y="549.61" width="23.36" height="11.69"/><rect x="724.24" y="549.61" width="11.68" height="11.69"/><rect x="806.01" y="549.61" width="35.04" height="11.69"/><rect x="93.45" y="561.30" width="23.36" height="11.69"/><rect x="128.49" y="561.30" width="11.68" height="11.69"/><rect x="210.26" y="561.30" width="11.68" height="11.69"/><rect x="607.43" y="561.30" width="11.68" height="11.69"/><rect x="712.56" y="561.30" width="11.68" height="11.69"/><rect x="817.69" y="561.30" width="23.36" height="11.69"/><rect x="93.45" y="572.99" width="35.04" height="11.69"/><rect x="186.90" y="572.99" width="23.36" height="11.69"/><rect x="280.35" y="572.99" width="11.68" height="11.69"/><rect x="303.71" y="572.99" width="11.68" height="11.69"/><rect x="712.56" y="572.99" width="11.68" height="11.69"/><rect x="735.92" y="572.99" width="11.68" height="11.69"/><rect x="817.69" y="572.99" width="23.36" height="11.69"/><rect x="93.45" y="584.69" width="35.04" height="11.69"/><rect x="140.18" y="584.69" width="11.68" height="11.69"/><rect x="292.03" y="584.69" width="11.68" height="11.69"/><rect x="502.29" y="584.69" width="23.36" height="11.69"/><rect x="630.79" y="584.69" width="11.68" height="11.69"/><rect x="724.24" y="584.69" width="23.36" height="11.69"/><rect x="770.96" y="584.69" width="11.68" height="11.69"/><rect x="806.01" y="584.69" width="35.04" height="11.69"/><rect x="93.45" y="596.38" width="46.73" height="11.69"/><rect x="186.90" y="596.38" width="11.68" height="11.69"/><rect x="233.62" y="596.38" width="23.36" height="11.69"/><rect x="315.39" y="596.38" width="11.68" height="11.69"/><rect x="338.76" y="596.38" width="11.68" height="11.69"/><rect x="397.16" y="596.38" width="35.04" height="11.69"/><rect x="502.29" y="596.38" width="35.04" height="11.69"/><rect x="607.43" y="596.38" width="23.36" height="11.69"/><rect x="642.47" y="596.38" width="11.68" height="11.69"/><rect x="735.92" y="596.38" width="11.68" height="11.69"/><rect x="782.64" y="596.38" width="58.41" height="11.69"/><rect x="105.13" y="608.07" width="35.04" height="11.69"/><rect x="163.54" y="608.07" width="11.68" height="11.69"/><rect x="198.58" y="608.07" width="11.68" height="11.69"/><rect x="221.94" y="608.07" width="23.36" height="11.69"/><rect x="256.99" y="608.07" width="11.68" height="11.69"/><rect x="280.35" y="608.07" width="35.04" height="11.69"/><rect x="385.48" y="608.07" width="46.73" height="11.69"/><rect x="513.98" y="608.07" width="23.36" height="11.69"/><rect x="607.43" y="608.07" width="46.72" height="11.69"/><rect x="689.19" y="608.07" width="11.68" height="11.69"/><rect x="724.24" y="608.07" width="23.36" height="11.69"/><rect x="782.64" y="608.07" width="11.68" height="11.69"/><rect x="806.01" y="608.07" width="35.04" height="11.69"/><rect x="116.81" y="619.77" width="11.68" height="11.69"/><rect x="163.54" y="619.77" width="11.68" height="11.69"/><rect x="186.90" y="619.77" width="11.68" height="11.69"/><rect x="280.35" y="619.77" width="46.72" height="11.69"/><rect x="385.48" y="619.77" width="35.04" height="11.69"/><rect x="513.98" y="619.77" width="23.36" height="11.69"/><rect x="607.43" y="619.77" width="58.41" height="11.69"/><rect x="700.88" y="619.77" width="23.36" height="11.69"/><rect x="794.33" y="619.77" width="23.36" height="11.69"/><rect x="140.18" y="631.46" width="23.36" height="11.69"/><rect x="186.90" y="631.46" width="11.68" height="11.69"/><rect x="268.67" y="631.46" width="58.41" height="11.69"/><rect x="373.80" y="631.46" width="35.04" height="11.69"/><rect x="525.66" y="631.46" width="23.36" height="11.69"/><rect x="607.43" y="631.46" width="58.41" height="11.69"/><rect x="677.51" y="631.46" width="11.68" height="11.69"/><rect x="700.88" y="631.46" width="23.36" height="11.69"/><rect x="735.92" y="631.46" width="11.68" height="11.69"/><rect x="794.33" y="631.46" width="23.36" height="11.69"/><rect x="140.18" y="643.16" width="11.68" height="11.69"/><rect x="198.58" y="643.16" width="23.36" height="11.69"/><rect x="268.67" y="643.16" width="58.41" height="11.69"/><rect x="373.80" y="643.16" width="35.04" height="11.69"/><rect x="525.66" y="643.16" width="23.36" height="11.69"/><rect x="607.43" y="643.16" width="116.81" height="11.69"/><rect x="794.33" y="643.16" width="11.68" height="11.69"/><rect x="151.86" y="654.85" width="23.36" height="11.69"/><rect x="210.26" y="654.85" width="11.68" height="11.69"/><rect x="256.99" y="654.85" width="23.36" height="11.69"/><rect x="303.71" y="654.85" width="23.36" height="11.69"/><rect x="362.12" y="654.85" width="46.72" height="11.69"/><rect x="525.66" y="654.85" width="46.73" height="11.69"/><rect x="595.74" y="654.85" width="35.04" height="11.69"/><rect x="654.15" y="654.85" width="58.41" height="11.69"/><rect x="759.28" y="654.85" width="23.36" height="11.69"/><rect x="163.54" y="666.54" width="23.36" height="11.69"/><rect x="245.31" y="666.54" width="23.36" height="11.69"/><rect x="350.44" y="666.54" width="46.73" height="11.69"/><rect x="537.34" y="666.54" width="46.73" height="11.69"/><rect x="665.83" y="666.54" width="35.04" height="11.69"/><rect x="724.24" y="666.54" width="11.68" height="11.69"/><rect x="747.60" y="666.54" width="23.36" height="11.69"/><rect x="175.22" y="678.24" width="46.72" height="11.69"/><rect x="256.99" y="678.24" width="11.68" height="11.69"/><rect x="338.76" y="678.24" width="46.72" height="11.69"/><rect x="537.34" y="678.24" width="46.73" height="11.69"/><rect x="607.43" y="678.24" width="11.68" height="11.69"/><rect x="665.83" y="678.24" width="35.04" height="11.69"/><rect x="724.24" y="678.24" width="35.04" height="11.69"/><rect x="186.90" y="689.93" width="46.72" height="11.69"/><rect x="245.31" y="689.93" width="35.04" height="11.69"/><rect x="327.07" y="689.93" width="46.73" height="11.69"/><rect x="549.02" y="689.93" width="70.09" height="11.69"/><rect x="654.15" y="689.93" width="46.73" height="11.69"/><rect x="712.56" y="689.93" width="11.68" height="11.69"/><rect x="735.92" y="689.93" width="11.68" height="11.69"/><rect x="210.26" y="701.62" width="70.09" height="11.69"/><rect x="315.39" y="701.62" width="58.41" height="11.69"/><rect x="560.70" y="701.62" width="58.41" height="11.69"/><rect x="654.15" y="701.62" width="81.77" height="11.69"/><rect x="221.94" y="713.32" width="81.77" height="11.69"/><rect x="327.07" y="713.32" width="35.04" height="11.69"/><rect x="560.70" y="713.32" width="58.41" height="11.69"/><rect x="630.79" y="713.32" width="81.77" height="11.69"/><rect x="233.62" y="725.01" width="70.09" height="11.69"/><rect x="327.07" y="725.01" width="11.68" height="11.69"/><rect x="595.74" y="725.01" width="11.68" height="11.69"/><rect x="619.11" y="725.01" width="93.45" height="11.69"/><rect x="233.62" y="736.71" width="70.09" height="11.69"/><rect x="619.11" y="736.71" width="81.77" height="11.69"/></g>
<g fill="#fce431"><rect x="210.26" y="210.49" width="11.68" height="11.69"/><rect x="689.19" y="210.49" width="23.36" height="11.69"/><rect x="759.28" y="210.49" width="11.68" height="11.69"/><rect x="221.94" y="222.18" width="23.36" height="11.69"/><rect x="654.15" y="222.18" width="46.73" height="11.69"/><rect x="712.56" y="222.18" width="11.68" height="11.69"/><rect x="735.92" y="222.18" width="23.36" height="11.69"/><rect x="186.90" y="233.88" width="23.36" height="11.69"/><rect x="221.94" y="233.88" width="23.36" height="11.69"/><rect x="256.99" y="233.88" width="23.36" height="11.69"/><rect x="630.79" y="233.88" width="46.73" height="11.69"/><rect x="700.88" y="233.88" width="11.68" height="11.69"/><rect x="724.24" y="233.88" width="35.04" height="11.69"/><rect x="163.54" y="245.57" width="11.68" height="11.69"/><rect x="198.58" y="245.57" width="23.36" height="11.69"/><rect x="233.62" y="245.57" width="23.36" height="11.69"/><rect x="268.67" y="245.57" width="35.04" height="11.69"/><rect x="607.43" y="245.57" width="58.41" height="11.69"/><rect x="677.51" y="245.57" width="23.36" height="11.69"/><rect x="712.56" y="245.57" width="23.36" height="11.69"/><rect x="747.60" y="245.57" width="35.04" height="11.69"/><rect x="163.54" y="257.26" width="11.68" height="11.69"/><rect x="186.90" y="257.26" width="23.36" height="11.69"/><rect x="221.94" y="257.26" width="11.68" height="11.69"/><rect x="256.99" y="257.26" width="11.68" height="11.69"/><rect x="303.71" y="257.26" width="23.36" height="11.69"/><rect x="595.74" y="257.26" width="35.04" height="11.69"/><rect x="665.83" y="257.26" width="11.68" height="11.69"/><rect x="700.88" y="257.26" width="70.09" height="11.69"/><rect x="140.18" y="268.96" width="11.68" height="11.69"/><rect x="175.22" y="268.96" width="11.68" height="11.69"/><rect x="327.07" y="268.96" width="23.36" height="11.69"/><rect x="584.06" y="268.96" width="23.36" height="11.69"/><rect x="642.47" y="268.96" width="23.36" height="11.69"/><rect x="689.19" y="268.96" width="23.36" height="11.69"/><rect x="735.92" y="268.96" width="46.73" height="11.69"/><rect x="151.86" y="280.65" width="46.72" height="11.69"/><rect x="221.94" y="280.65" width="23.36" height="11.69"/><rect x="280.35" y="280.65" width="11.68" height="11.69"/><rect x="338.76" y="280.65" width="11.68" height="11.69"/><rect x="584.06" y="280.65" width="11.68" height="11.69"/><rect x="619.11" y="280.65" width="35.04" height="11.69"/><rect x="665.83" y="280.65" width="23.36" height="11.69"/><rect x="700.88" y="280.65" width="23.36" height="11.69"/><rect x="735.92" y="280.65" width="46.73" height="11.69"/><rect x="794.33" y="280.65" width="11.68" height="11.69"/><rect x="175.22" y="292.34" width="11.68" height="11.69"/><rect x="256.99" y="292.34" width="11.68" height="11.69"/><rect x="303.71" y="292.34" width="23.36" height="11.69"/><rect x="350.44" y="292.34" width="11.68" height="11.69"/><rect x="607.43" y="292.34" width="23.36" height="11.69"/><rect x="654.15" y="292.34" width="23.36" height="11.69"/><rect x="689.19" y="292.34" width="35.04" height="11.69"/><rect x="770.96" y="292.34" width="35.04" height="11.69"/><rect x="151.86" y="304.04" width="11.68" height="11.69"/><rect x="245.31" y="304.04" width="11.68" height="11.69"/><rect x="268.67" y="304.04" width="11.68" height="11.69"/><rect x="315.39" y="304.04" width="23.36" height="11.69"/><rect x="560.70" y="304.04" width="11.68" height="11.69"/><rect x="607.43" y="304.04" width="11.68" height="11.69"/><rect x="630.79" y="304.04" width="11.68" height="11.69"/><rect x="665.83" y="304.04" width="11.68" height="11.69"/><rect x="782.64" y="304.04" width="11.68" height="11.69"/><rect x="829.37" y="304.04" width="11.68" height="11.69"/><rect x="128.49" y="315.73" width="35.04" height="11.69"/><rect x="210.26" y="315.73" width="11.68" height="11.69"/><rect x="256.99" y="315.73" width="35.04" height="11.69"/><rect x="303.71" y="315.73" width="11.68" height="11.69"/><rect x="327.07" y="315.73" width="11.68" height="11.69"/><rect x="549.02" y="315.73" width="23.36" height="11.69"/><rect x="595.74" y="315.73" width="23.36" height="11.69"/><rect x="630.79" y="315.73" width="23.36" height="11.69"/><rect x="700.88" y="315.73" width="11.68" height="11.69"/><rect x="817.69" y="315.73" width="11.68" height="11.69"/><rect x="128.49" y="327.43" width="11.68" height="11.69"/><rect x="151.86" y="327.43" width="23.36" height="11.69"/><rect x="221.94" y="327.43" width="11.68" height="11.69"/><rect x="280.35" y="327.43" width="11.68" height="11.69"/><rect x="303.71" y="327.43" width="46.72" height="11.69"/><rect x="572.38" y="327.43" width="11.68" height="11.69"/><rect x="607.43" y="327.43" width="35.04" height="11.69"/><rect x="700.88" y="327.43" width="11.68" height="11.69"/><rect x="782.64" y="327.43" width="11.68" height="11.69"/><rect x="806.01" y="327.43" width="23.36" height="11.69"/><rect x="140.18" y="339.12" width="35.04" height="11.69"/><rect x="198.58" y="339.12" width="11.68" height="11.69"/><rect x="233.62" y="339.12" width="70.09" height="11.69"/><rect x="327.07" y="339.12" width="46.73" height="11.69"/><rect x="572.38" y="339.12" width="11.68" height="11.69"/><rect x="654.15" y="339.12" width="70.09" height="11.69"/><rect x="770.96" y="339.12" width="11.68" height="11.69"/><rect x="794.33" y="339.12" width="23.36" height="11.69"/><rect x="151.86" y="350.81" width="23.36" height="11.69"/><rect x="186.90" y="350.81" width="11.68" height="11.69"/><rect x="210.26" y="350.81" width="23.36" height="11.69"/><rect x="280.35" y="350.81" width="35.04" height="11.69"/><rect x="338.76" y="350.81" width="35.04" height="11.69"/><rect x="654.15" y="350.81" width="23.36" height="11.69"/><rect x="689.19" y="350.81" width="11.68" height="11.69"/><rect x="724.24" y="350.81" width="11.68" height="11.69"/><rect x="770.96" y="350.81" width="35.04" height="11.69"/><rect x="151.86" y="362.51" width="23.36" height="11.69"/><rect x="186.90" y="362.51" width="11.68" height="11.69"/><rect x="210.26" y="362.51" width="23.36" height="11.69"/><rect x="327.07" y="362.51" width="11.68" height="11.69"/><rect x="362.12" y="362.51" width="11.68" height="11.69"/><rect x="595.74" y="362.51" width="23.36" height="11.69"/><rect x="642.47" y="362.51" width="23.36" height="11.69"/><rect x="712.56" y="362.51" width="11.68" height="11.69"/><rect x="747.60" y="362.51" width="11.68" height="11.69"/><rect x="770.96" y="362.51" width="35.04" height="11.69"/><rect x="163.54" y="374.20" width="23.36" height="11.69"/><rect x="198.58" y="374.20" width="58.41" height="11.69"/><rect x="292.03" y="374.20" width="35.04" height="11.69"/><rect x="338.76" y="374.20" width="11.68" height="11.69"/><rect x="595.74" y="374.20" width="116.81" height="11.69"/><rect x="759.28" y="374.20" width="35.04" height="11.69"/><rect x="163.54" y="385.89" width="93.45" height="11.69"/><rect x="303.71" y="385.89" width="35.04" height="11.69"/><rect x="607.43" y="385.89" width="23.36" height="11.69"/><rect x="677.51" y="385.89" width="128.49" height="11.69"/><rect x="163.54" y="397.59" width="58.41" height="11.69"/><rect x="256.99" y="397.59" width="11.68" height="11.69"/><rect x="292.03" y="397.59" width="11.68" height="11.69"/><rect x="584.06" y="397.59" width="11.68" height="11.69"/><rect x="607.43" y="397.59" width="35.04" height="11.69"/><rect x="677.51" y="397.59" width="23.36" height="11.69"/><rect x="712.56" y="397.59" width="58.41" height="11.69"/><rect x="163.54" y="409.28" width="35.04" height="11.69"/><rect x="233.62" y="409.28" width="105.13" height="11.69"/><rect x="572.38" y="409.28" width="23.36" height="11.69"/><rect x="630.79" y="409.28" width="70.09" height="11.69"/><rect x="735.92" y="409.28" width="23.36" height="11.69"/><rect x="770.96" y="409.28" width="23.36" height="11.69"/><rect x="175.22" y="420.97" width="58.41" height="11.69"/><rect x="268.67" y="420.97" width="81.77" height="11.69"/><rect x="584.06" y="420.97" width="81.77" height="11.69"/><rect x="677.51" y="420.97" width="70.09" height="11.69"/><rect x="210.26" y="432.67" width="81.77" height="11.69"/><rect x="642.47" y="432.67" width="81.77" height="11.69"/><rect x="210.26" y="444.36" width="23.36" height="11.69"/><rect x="350.44" y="444.36" width="11.68" height="11.69"/><rect x="572.38" y="444.36" width="23.36" height="11.69"/><rect x="292.03" y="479.44" width="23.36" height="11.69"/><rect x="268.67" y="491.14" width="11.68" height="11.69"/><rect x="292.03" y="491.14" width="11.68" height="11.69"/><rect x="584.06" y="491.14" width="11.68" height="11.69"/><rect x="700.88" y="491.14" width="11.68" height="11.69"/><rect x="233.62" y="502.83" width="23.36" height="11.69"/><rect x="280.35" y="502.83" width="23.36" height="11.69"/><rect x="595.74" y="502.83" width="23.36" height="11.69"/><rect x="630.79" y="502.83" width="93.45" height="11.69"/><rect x="186.90" y="514.52" width="70.09" height="11.69"/><rect x="292.03" y="514.52" width="23.36" height="11.69"/><rect x="338.76" y="514.52" width="23.36" height="11.69"/><rect x="630.79" y="514.52" width="35.04" height="11.69"/><rect x="689.19" y="514.52" width="58.41" height="11.69"/><rect x="770.96" y="514.52" width="11.68" height="11.69"/><rect x="151.86" y="526.22" width="11.68" height="11.69"/><rect x="175.22" y="526.22" width="23.36" height="11.69"/><rect x="210.26" y="526.22" width="35.04" height="11.69"/><rect x="268.67" y="526.22" width="35.04" height="11.69"/><rect x="315.39" y="526.22" width="46.73" height="11.69"/><rect x="549.02" y="526.22" width="11.68" height="11.69"/><rect x="572.38" y="526.22" width="23.36" height="11.69"/><rect x="607.43" y="526.22" width="35.04" height="11.69"/><rect x="654.15" y="526.22" width="23.36" height="11.69"/><rect x="712.56" y="526.22" width="46.73" height="11.69"/><rect x="770.96" y="526.22" width="11.68" height="11.69"/><rect x="140.18" y="537.91" width="23.36" height="11.69"/><rect x="198.58" y="537.91" width="11.68" height="11.69"/><rect x="245.31" y="537.91" width="23.36" height="11.69"/><rect x="292.03" y="537.91" width="46.73" height="11.69"/><rect x="350.44" y="537.91" width="11.68" height="11.69"/><rect x="572.38" y="537.91" width="35.04" height="11.69"/><rect x="642.47" y="537.91" width="35.04" height="11.69"/><rect x="689.19" y="537.91" width="11.68" height="11.69"/><rect x="735.92" y="537.91" width="35.04" height="11.69"/><rect x="782.64" y="537.91" width="23.36" height="11.69"/><rect x="151.86" y="549.61" width="23.36" height="11.69"/><rect x="186.90" y="549.61" width="11.68" height="11.69"/><rect x="210.26" y="549.61" width="46.72" height="11.69"/><rect x="268.67" y="549.61" width="70.09" height="11.69"/><rect x="350.44" y="549.61" width="23.36" height="11.69"/><rect x="560.70" y="549.61" width="11.68" height="11.69"/><rect x="584.06" y="549.61" width="23.36" height="11.69"/><rect x="630.79" y="549.61" width="58.41" height="11.69"/><rect x="735.92" y="549.61" width="35.04" height="11.69"/><rect x="782.64" y="549.61" width="23.36" height="11.69"/><rect x="140.18" y="561.30" width="23.36" height="11.69"/><rect x="186.90" y="561.30" width="23.36" height="11.69"/><rect x="233.62" y="561.30" width="11.68" height="11.69"/><rect x="256.99" y="561.30" width="93.45" height="11.69"/><rect x="408.84" y="561.30" width="23.36" height="11.69"/><rect x="502.29" y="561.30" width="11.68" height="11.69"/><rect x="560.70" y="561.30" width="11.68" height="11.69"/><rect x="584.06" y="561.30" width="23.36" height="11.69"/><rect x="619.11" y="561.30" width="81.77" height="11.69"/><rect x="735.92" y="561.30" width="81.77" height="11.69"/><rect x="128.49" y="572.99" width="58.41" height="11.69"/><rect x="210.26" y="572.99" width="23.36" height="11.69"/><rect x="256.99" y="572.99" width="23.36" height="11.69"/><rect x="292.03" y="572.99" width="11.68" height="11.69"/><rect x="327.07" y="572.99" width="11.68" height="11.69"/><rect x="350.44" y="572.99" width="23.36" height="11.69"/><rect x="408.84" y="572.99" width="23.36" height="11.69"/><rect x="502.29" y="572.99" width="23.36" height="11.69"/><rect x="572.38" y="572.99" width="70.09" height="11.69"/><rect x="654.15" y="572.99" width="58.41" height="11.69"/><rect x="747.60" y="572.99" width="35.04" height="11.69"/><rect x="794.33" y="572.99" width="23.36" height="11.69"/><rect x="128.49" y="584.69" width="11.68" height="11.69"/><rect x="151.86" y="584.69" width="70.09" height="11.69"/><rect x="245.31" y="584.69" width="46.72" height="11.69"/><rect x="338.76" y="584.69" width="46.72" height="11.69"/><rect x="408.84" y="584.69" width="23.36" height="11.69"/><rect x="572.38" y="584.69" width="58.41" height="11.69"/><rect x="642.47" y="584.69" width="11.68" height="11.69"/><rect x="665.83" y="584.69" width="58.41" height="11.69"/><rect x="747.60" y="584.69" width="23.36" height="11.69"/><rect x="140.18" y="596.38" width="46.72" height="11.69"/><rect x="198.58" y="596.38" width="23.36" height="11.69"/><rect x="256.99" y="596.38" width="23.36" height="11.69"/><rect x="327.07" y="596.38" width="11.68" height="11.69"/><rect x="362.12" y="596.38" width="11.68" height="11.69"/><rect x="584.06" y="596.38" width="23.36" height="11.69"/><rect x="630.79" y="596.38" width="11.68" height="11.69"/><rect x="654.15" y="596.38" width="46.73" height="11.69"/><rect x="712.56" y="596.38" width="23.36" height="11.69"/><rect x="747.60" y="596.38" width="35.04" height="11.69"/><rect x="140.18" y="608.07" width="23.36" height="11.69"/><rect x="175.22" y="608.07" width="23.36" height="11.69"/><rect x="210.26" y="608.07" width="11.68" height="11.69"/><rect x="315.39" y="608.07" width="58.41" height="11.69"/><rect x="584.06" y="608.07" width="23.36" height="11.69"/><rect x="654.15" y="608.07" width="35.04" height="11.69"/><rect x="700.88" y="608.07" width="23.36" height="11.69"/><rect x="747.60" y="608.07" width="35.04" height="11.69"/><rect x="794.33" y="608.07" width="11.68" height="11.69"/><rect x="128.49" y="619.77" width="35.04" height="11.69"/><rect x="175.22" y="619.77" width="11.68" height="11.69"/><rect x="198.58" y="619.77" width="35.04" height="11.69"/><rect x="256.99" y="619.77" width="11.68" height="11.69"/><rect x="327.07" y="619.77" width="35.04" height="11.69"/><rect x="595.74" y="619.77" width="11.68" height="11.69"/><rect x="665.83" y="619.77" width="35.04" height="11.69"/><rect x="724.24" y="619.77" width="70.09" height="11.69"/><rect x="128.49" y="631.46" width="11.68" height="11.69"/><rect x="163.54" y="631.46" width="23.36" height="11.69"/><rect x="198.58" y="631.46" width="35.04" height="11.69"/><rect x="245.31" y="631.46" width="11.68" height="11.69"/><rect x="338.76" y="631.46" width="11.68" height="11.69"/><rect x="665.83" y="631.46" width="11.68" height="11.69"/><rect x="689.19" y="631.46" width="11.68" height="11.69"/><rect x="724.24" y="631.46" width="11.68" height="11.69"/><rect x="747.60" y="631.46" width="35.04" height="11.69"/><rect x="151.86" y="643.16" width="46.72" height="11.69"/><rect x="327.07" y="643.16" width="11.68" height="11.69"/><rect x="724.24" y="643.16" width="46.72" height="11.69"/><rect x="175.22" y="654.85" width="35.04" height="11.69"/><rect x="233.62" y="654.85" width="11.68" height="11.69"/><rect x="712.56" y="654.85" width="46.73" height="11.69"/><rect x="186.90" y="666.54" width="23.36" height="11.69"/><rect x="221.94" y="666.54" width="23.36" height="11.69"/><rect x="700.88" y="666.54" width="23.36" height="11.69"/><rect x="735.92" y="666.54" width="11.68" height="11.69"/><rect x="221.94" y="678.24" width="23.36" height="11.69"/><rect x="584.06" y="678.24" width="11.68" height="11.69"/><rect x="700.88" y="678.24" width="23.36" height="11.69"/><rect x="233.62" y="689.93" width="11.68" height="11.69"/><rect x="700.88" y="689.93" width="11.68" height="11.69"/><rect x="724.24" y="689.93" width="11.68" height="11.69"/><rect x="315.39" y="713.32" width="11.68" height="11.69"/></g>
<g fill="#fefadf"><rect x="700.88" y="245.57" width="11.68" height="11.69"/><rect x="292.03" y="257.26" width="11.68" height="11.69"/><rect x="630.79" y="257.26" width="11.68" height="11.69"/><rect x="677.51" y="257.26" width="23.36" height="11.69"/><rect x="198.58" y="268.96" width="58.41" height="11.69"/><rect x="303.71" y="268.96" width="23.36" height="11.69"/><rect x="607.43" y="268.96" width="23.36" height="11.69"/><rect x="665.83" y="268.96" width="23.36" height="11.69"/><rect x="245.31" y="280.65" width="35.04" height="11.69"/><rect x="315.39" y="280.65" width="23.36" height="11.69"/><rect x="595.74" y="280.65" width="23.36" height="11.69"/><rect x="654.15" y="280.65" width="11.68" height="11.69"/><rect x="163.54" y="292.34" width="11.68" height="11.69"/><rect x="268.67" y="292.34" width="23.36" height="11.69"/><rect x="327.07" y="292.34" width="23.36" height="11.69"/><rect x="584.06" y="292.34" width="23.36" height="11.69"/><rect x="630.79" y="292.34" width="23.36" height="11.69"/><rect x="175.22" y="304.04" width="35.04" height="11.69"/><rect x="280.35" y="304.04" width="23.36" height="11.69"/><rect x="350.44" y="304.04" width="11.68" height="11.69"/><rect x="572.38" y="304.04" width="11.68" height="11.69"/><rect x="619.11" y="304.04" width="11.68" height="11.69"/><rect x="689.19" y="304.04" width="23.36" height="11.69"/><rect x="198.58" y="315.73" width="11.68" height="11.69"/><rect x="677.51" y="315.73" width="23.36" height="11.69"/><rect x="782.64" y="315.73" width="11.68" height="11.69"/><rect x="198.58" y="327.43" width="23.36" height="11.69"/><rect x="654.15" y="327.43" width="35.04" height="11.69"/><rect x="759.28" y="327.43" width="23.36" height="11.69"/><rect x="210.26" y="339.12" width="23.36" height="11.69"/><rect x="619.11" y="339.12" width="23.36" height="11.69"/><rect x="724.24" y="339.12" width="46.72" height="11.69"/><rect x="233.62" y="350.81" width="46.73" height="11.69"/><rect x="315.39" y="350.81" width="11.68" height="11.69"/><rect x="607.43" y="350.81" width="23.36" height="11.69"/><rect x="712.56" y="350.81" width="11.68" height="11.69"/><rect x="747.60" y="350.81" width="11.68" height="11.69"/><rect x="268.67" y="362.51" width="23.36" height="11.69"/><rect x="665.83" y="362.51" width="46.72" height="11.69"/><rect x="256.99" y="385.89" width="11.68" height="11.69"/><rect x="221.94" y="397.59" width="35.04" height="11.69"/><rect x="268.67" y="397.59" width="23.36" height="11.69"/><rect x="198.58" y="409.28" width="35.04" height="11.69"/><rect x="233.62" y="420.97" width="11.68" height="11.69"/><rect x="292.03" y="432.67" width="81.77" height="11.69"/><rect x="572.38" y="432.67" width="70.09" height="11.69"/><rect x="362.12" y="444.36" width="11.68" height="11.69"/><rect x="560.70" y="444.36" width="11.68" height="11.69"/><rect x="175.22" y="491.14" width="11.68" height="11.69"/><rect x="712.56" y="491.14" width="11.68" height="11.69"/><rect x="747.60" y="491.14" width="11.68" height="11.69"/><rect x="151.86" y="502.83" width="23.36" height="11.69"/><rect x="724.24" y="502.83" width="11.68" height="11.69"/><rect x="759.28" y="502.83" width="46.73" height="11.69"/><rect x="140.18" y="514.52" width="23.36" height="11.69"/><rect x="665.83" y="514.52" width="23.36" height="11.69"/><rect x="747.60" y="514.52" width="23.36" height="11.69"/><rect x="782.64" y="514.52" width="11.68" height="11.69"/><rect x="128.49" y="526.22" width="23.36" height="11.69"/><rect x="198.58" y="526.22" width="11.68" height="11.69"/><rect x="689.19" y="526.22" width="23.36" height="11.69"/><rect x="759.28" y="526.22" width="11.68" height="11.69"/><rect x="782.64" y="526.22" width="23.36" height="11.69"/><rect x="128.49" y="537.91" width="11.68" height="11.69"/><rect x="163.54" y="537.91" width="35.04" height="11.69"/><rect x="268.67" y="537.91" width="23.36" height="11.69"/><rect x="549.02" y="537.91" width="23.36" height="11.69"/><rect x="700.88" y="537.91" width="23.36" height="11.69"/><rect x="770.96" y="537.91" width="11.68" height="11.69"/><rect x="806.01" y="537.91" width="11.68" height="11.69"/><rect x="116.81" y="549.61" width="11.68" height="11.69"/><rect x="175.22" y="549.61" width="11.68" height="11.69"/><rect x="198.58" y="549.61" width="11.68" height="11.69"/><rect x="256.99" y="549.61" width="11.68" height="11.69"/><rect x="338.76" y="549.61" width="11.68" height="11.69"/><rect x="572.38" y="549.61" width="11.68" height="11.69"/><rect x="712.56" y="549.61" width="11.68" height="11.69"/><rect x="770.96" y="549.61" width="11.68" height="11.69"/><rect x="116.81" y="561.30" width="11.68" height="11.69"/><rect x="163.54" y="561.30" width="11.68" height="11.69"/><rect x="245.31" y="561.30" width="11.68" height="11.69"/><rect x="350.44" y="561.30" width="11.68" height="11.69"/><rect x="549.02" y="561.30" width="11.68" height="11.69"/><rect x="572.38" y="561.30" width="11.68" height="11.69"/><rect x="724.24" y="561.30" width="11.68" height="11.69"/><rect x="233.62" y="572.99" width="23.36" height="11.69"/><rect x="338.76" y="572.99" width="11.68" height="11.69"/><rect x="373.80" y="572.99" width="23.36" height="11.69"/><rect x="560.70" y="572.99" width="11.68" height="11.69"/><rect x="724.24" y="572.99" width="11.68" height="11.69"/><rect x="782.64" y="572.99" width="11.68" height="11.69"/><rect x="221.94" y="584.69" width="23.36" height="11.69"/><rect x="303.71" y="584.69" width="35.04" height="11.69"/><rect x="549.02" y="584.69" width="23.36" height="11.69"/><rect x="782.64" y="584.69" width="23.36" height="11.69"/><rect x="221.94" y="596.38" width="11.68" height="11.69"/><rect x="292.03" y="596.38" width="23.36" height="11.69"/><rect x="350.44" y="596.38" width="11.68" height="11.69"/><rect x="373.80" y="596.38" width="11.68" height="11.69"/><rect x="560.70" y="596.38" width="23.36" height="11.69"/><rect x="245.31" y="608.07" width="11.68" height="11.69"/><rect x="105.13" y="619.77" width="11.68" height="11.69"/><rect x="233.62" y="619.77" width="23.36" height="11.69"/><rect x="268.67" y="619.77" width="11.68" height="11.69"/><rect x="116.81" y="631.46" width="11.68" height="11.69"/><rect x="233.62" y="631.46" width="11.68" height="11.69"/><rect x="256.99" y="631.46" width="11.68" height="11.69"/><rect x="782.64" y="631.46" width="11.68" height="11.69"/><rect x="116.81" y="643.16" width="23.36" height="11.69"/><rect x="221.94" y="643.16" width="46.72" height="11.69"/><rect x="770.96" y="643.16" width="23.36" height="11.69"/><rect x="128.49" y="654.85" width="23.36" height="11.69"/><rect x="245.31" y="654.85" width="11.68" height="11.69"/><rect x="782.64" y="654.85" width="23.36" height="11.69"/><rect x="140.18" y="666.54" width="23.36" height="11.69"/><rect x="315.39" y="666.54" width="11.68" height="11.69"/><rect x="770.96" y="666.54" width="23.36" height="11.69"/><rect x="163.54" y="678.24" width="11.68" height="11.69"/><rect x="315.39" y="678.24" width="11.68" height="11.69"/><rect x="759.28" y="678.24" width="11.68" height="11.69"/><rect x="163.54" y="689.93" width="23.36" height="11.69"/><rect x="303.71" y="689.93" width="23.36" height="11.69"/><rect x="619.11" y="689.93" width="11.68" height="11.69"/><rect x="747.60" y="689.93" width="11.68" height="11.69"/><rect x="198.58" y="701.62" width="11.68" height="11.69"/><rect x="280.35" y="701.62" width="35.04" height="11.69"/><rect x="619.11" y="701.62" width="35.04" height="11.69"/><rect x="735.92" y="701.62" width="11.68" height="11.69"/><rect x="210.26" y="713.32" width="11.68" height="11.69"/><rect x="303.71" y="713.32" width="11.68" height="11.69"/><rect x="619.11" y="713.32" width="11.68" height="11.69"/><rect x="712.56" y="713.32" width="23.36" height="11.69"/><rect x="221.94" y="725.01" width="11.68" height="11.69"/><rect x="303.71" y="725.01" width="23.36" height="11.69"/><rect x="584.06" y="725.01" width="11.68" height="11.69"/><rect x="607.43" y="725.01" width="11.68" height="11.69"/><rect x="303.71" y="736.71" width="11.68" height="11.69"/><rect x="595.74" y="736.71" width="23.36" height="11.69"/></g>
<g fill="#2e140c"><rect x="490.61" y="374.20" width="11.68" height="11.69"/><rect x="490.61" y="385.89" width="11.68" height="11.69"/><rect x="490.61" y="397.59" width="11.68" height="11.69"/><rect x="490.61" y="409.28" width="11.68" height="11.69"/><rect x="478.93" y="420.97" width="23.36" height="11.69"/><rect x="467.25" y="432.67" width="35.04" height="11.69"/><rect x="455.57" y="444.36" width="35.04" height="11.69"/><rect x="350.44" y="456.06" width="46.73" height="11.69"/><rect x="467.25" y="456.06" width="23.36" height="11.69"/><rect x="537.34" y="456.06" width="46.73" height="11.69"/><rect x="397.16" y="467.75" width="46.72" height="11.69"/><rect x="478.93" y="467.75" width="46.72" height="11.69"/><rect x="338.76" y="479.44" width="11.68" height="11.69"/><rect x="420.53" y="479.44" width="23.36" height="11.69"/><rect x="478.93" y="479.44" width="35.04" height="11.69"/><rect x="315.39" y="491.14" width="23.36" height="11.69"/><rect x="478.93" y="491.14" width="23.36" height="11.69"/><rect x="595.74" y="491.14" width="23.36" height="11.69"/><rect x="420.53" y="502.83" width="23.36" height="11.69"/><rect x="478.93" y="502.83" width="23.36" height="11.69"/><rect x="619.11" y="502.83" width="11.68" height="11.69"/><rect x="280.35" y="514.52" width="11.68" height="11.69"/><rect x="420.53" y="514.52" width="11.68" height="11.69"/><rect x="478.93" y="514.52" width="35.04" height="11.69"/><rect x="420.53" y="526.22" width="11.68" height="11.69"/><rect x="490.61" y="526.22" width="23.36" height="11.69"/><rect x="385.48" y="537.91" width="23.36" height="11.69"/><rect x="420.53" y="537.91" width="11.68" height="11.69"/><rect x="478.93" y="537.91" width="23.36" height="11.69"/><rect x="385.48" y="549.61" width="11.68" height="11.69"/><rect x="478.93" y="549.61" width="23.36" height="11.69"/><rect x="478.93" y="561.30" width="23.36" height="11.69"/><rect x="478.93" y="572.99" width="23.36" height="11.69"/><rect x="385.48" y="584.69" width="11.68" height="11.69"/><rect x="478.93" y="584.69" width="23.36" height="11.69"/><rect x="385.48" y="596.38" width="11.68" height="11.69"/><rect x="467.25" y="596.38" width="23.36" height="11.69"/><rect x="467.25" y="608.07" width="11.68" height="11.69"/><rect x="537.34" y="608.07" width="11.68" height="11.69"/><rect x="467.25" y="619.77" width="11.68" height="11.69"/><rect x="537.34" y="619.77" width="11.68" height="11.69"/><rect x="467.25" y="631.46" width="11.68" height="11.69"/><rect x="549.02" y="631.46" width="11.68" height="11.69"/><rect x="350.44" y="643.16" width="23.36" height="11.69"/><rect x="455.57" y="643.16" width="23.36" height="11.69"/><rect x="549.02" y="643.16" width="11.68" height="11.69"/><rect x="350.44" y="654.85" width="11.68" height="11.69"/><rect x="806.01" y="654.85" width="11.68" height="11.69"/><rect x="338.76" y="666.54" width="11.68" height="11.69"/><rect x="794.33" y="666.54" width="23.36" height="11.69"/><rect x="128.49" y="678.24" width="11.68" height="11.69"/><rect x="327.07" y="678.24" width="11.68" height="11.69"/><rect x="782.64" y="678.24" width="23.36" height="11.69"/><rect x="140.18" y="689.93" width="11.68" height="11.69"/><rect x="770.96" y="689.93" width="23.36" height="11.69"/><rect x="151.86" y="701.62" width="23.36" height="11.69"/><rect x="759.28" y="701.62" width="23.36" height="11.69"/><rect x="163.54" y="713.32" width="35.04" height="11.69"/><rect x="735.92" y="713.32" width="23.36" height="11.69"/><rect x="186.90" y="725.01" width="23.36" height="11.69"/></g>
<g fill="#d3cbca"></g>
<path d="M112.37 166.99L109.34 169.56L112.37 172.13M124.05 166.99L121.02 169.56L124.05 172.13M135.74 166.99L132.70 169.56L135.74 172.13M147.42 166.99L144.38 169.56L147.42 172.13M159.10 166.99L156.06 169.56L159.10 172.13M754.84 166.99L751.81 169.56L754.84 172.13M766.52 166.99L763.49 169.56L766.52 172.13M778.20 166.99L775.17 169.56L778.20 172.13M801.57 166.99L798.53 169.56L801.57 172.13M813.25 166.99L810.21 169.56L813.25 172.13M824.93 166.99L821.89 169.56L824.93 172.13M836.61 166.99L833.57 169.56L836.61 172.13M100.69 178.68L97.66 181.25L100.69 183.83M112.37 178.68L109.34 181.25L112.37 183.83M124.05 178.68L121.02 181.25L124.05 183.83M135.74 178.68L132.70 181.25L135.74 183.83M147.42 178.68L144.38 181.25L147.42 183.83M159.10 178.68L156.06 181.25L159.10 183.83M170.78 178.68L167.74 181.25L170.78 183.83M182.46 178.68L179.42 181.25L182.46 183.83M194.14 178.68L191.11 181.25L194.14 183.83M719.80 178.68L716.76 181.25L719.80 183.83M731.48 178.68L728.44 181.25L731.48 183.83M789.89 178.68L786.85 181.25L789.89 183.83M801.57 178.68L798.53 181.25L801.57 183.83M813.25 178.68L810.21 181.25L813.25 183.83M836.61 178.68L833.57 181.25L836.61 183.83M848.29 178.68L845.26 181.25L848.29 183.83M89.01 190.37L85.97 192.95L89.01 195.52M100.69 190.37L97.66 192.95L100.69 195.52M124.05 190.37L121.02 192.95L124.05 195.52M135.74 190.37L132.70 192.95L135.74 195.52M813.25 190.37L810.21 192.95L813.25 195.52M836.61 190.37L833.57 192.95L836.61 195.52M848.29 190.37L845.26 192.95L848.29 195.52M77.33 202.07L74.29 204.64L77.33 207.21M89.01 202.07L85.97 204.64L89.01 207.21M100.69 202.07L97.66 204.64L100.69 207.21M124.05 202.07L121.02 204.64L124.05 207.21M824.93 202.07L821.89 204.64L824.93 207.21M836.61 202.07L833.57 204.64L836.61 207.21M859.97 202.07L856.94 204.64L859.97 207.21M77.33 213.76L74.29 216.33L77.33 218.91M89.01 213.76L85.97 216.33L89.01 218.91M100.69 213.76L97.66 216.33L100.69 218.91M112.37 213.76L109.34 216.33L112.37 218.91M848.29 213.76L845.26 216.33L848.29 218.91M859.97 213.76L856.94 216.33L859.97 218.91M77.33 225.46L74.29 228.03L77.33 230.60M100.69 225.46L97.66 228.03L100.69 230.60M848.29 225.46L845.26 228.03L848.29 230.60M859.97 225.46L856.94 228.03L859.97 230.60M65.65 237.15L62.61 239.72L65.65 242.29M77.33 237.15L74.29 239.72L77.33 242.29M89.01 237.15L85.97 239.72L89.01 242.29M848.29 237.15L845.26 239.72L848.29 242.29M871.65 237.15L868.62 239.72L871.65 242.29M65.65 248.84L62.61 251.42L65.65 253.99M89.01 248.84L85.97 251.42L89.01 253.99M871.65 248.84L868.62 251.42L871.65 253.99M65.65 260.54L62.61 263.11L65.65 265.68M859.97 260.54L856.94 263.11L859.97 265.68M871.65 260.54L868.62 263.11L871.65 265.68M65.65 272.23L62.61 274.80L65.65 277.38M77.33 272.23L74.29 274.80L77.33 277.38M859.97 272.23L856.94 274.80L859.97 277.38M871.65 272.23L868.62 274.80L871.65 277.38M65.65 283.92L62.61 286.50L65.65 289.07M77.33 283.92L74.29 286.50L77.33 289.07M871.65 283.92L868.62 286.50L871.65 289.07M65.65 295.62L62.61 298.19L65.65 300.76M871.65 295.62L868.62 298.19L871.65 300.76M65.65 307.31L62.61 309.88L65.65 312.46M871.65 307.31L868.62 309.88L871.65 312.46M65.65 319.01L62.61 321.58L65.65 324.15M65.65 330.70L62.61 333.27L65.65 335.84M404.40 330.70L401.37 333.27L404.40 335.84M532.90 330.70L529.86 333.27L532.90 335.84M77.33 342.39L74.29 344.97L77.33 347.54M416.09 342.39L413.05 344.97L416.09 347.54M532.90 342.39L529.86 344.97L532.90 347.54M778.20 155.29L775.17 157.87L778.20 160.44M789.89 155.29L786.85 157.87L789.89 160.44M801.57 155.29L798.53 157.87L801.57 160.44M813.25 155.29L810.21 157.87L813.25 160.44M824.93 155.29L821.89 157.87L824.93 160.44M77.33 354.09L74.29 356.66L77.33 359.23M416.09 354.09L413.05 356.66L416.09 359.23M427.77 354.09L424.73 356.66L427.77 359.23M474.49 354.09L471.46 356.66L474.49 359.23M509.54 354.09L506.50 356.66L509.54 359.23M521.22 354.09L518.18 356.66L521.22 359.23M532.90 354.09L529.86 356.66L532.90 359.23M77.33 365.78L74.29 368.35L77.33 370.93M427.77 365.78L424.73 368.35L427.77 370.93M439.45 365.78L436.41 368.35L439.45 370.93M474.49 365.78L471.46 368.35L474.49 370.93M497.85 365.78L494.82 368.35L497.85 370.93M509.54 365.78L506.50 368.35L509.54 370.93M521.22 365.78L518.18 368.35L521.22 370.93M427.77 377.47L424.73 380.05L427.77 382.62M439.45 377.47L436.41 380.05L439.45 382.62M486.17 377.47L483.14 380.05L486.17 382.62M439.45 389.17L436.41 391.74L439.45 394.31M486.17 389.17L483.14 391.74L486.17 394.31M509.54 389.17L506.50 391.74L509.54 394.31M369.36 400.86L366.32 403.43L369.36 406.01M427.77 400.86L424.73 403.43L427.77 406.01M439.45 400.86L436.41 403.43L439.45 406.01M462.81 400.86L459.77 403.43L462.81 406.01M486.17 400.86L483.14 403.43L486.17 406.01M509.54 400.86L506.50 403.43L509.54 406.01M381.04 412.56L378.01 415.13L381.04 417.70M416.09 412.56L413.05 415.13L416.09 417.70M439.45 412.56L436.41 415.13L439.45 417.70M462.81 412.56L459.77 415.13L462.81 417.70M474.49 412.56L471.46 415.13L474.49 417.70M486.17 412.56L483.14 415.13L486.17 417.70M509.54 412.56L506.50 415.13L509.54 417.70M521.22 412.56L518.18 415.13L521.22 417.70M567.94 412.56L564.91 415.13L567.94 417.70M392.72 424.25L389.69 426.82L392.72 429.39M404.40 424.25L401.37 426.82L404.40 429.39M416.09 424.25L413.05 426.82L416.09 429.39M427.77 424.25L424.73 426.82L427.77 429.39M439.45 424.25L436.41 426.82L439.45 429.39M474.49 424.25L471.46 426.82L474.49 429.39M509.54 424.25L506.50 426.82L509.54 429.39M521.22 424.25L518.18 426.82L521.22 429.39M556.26 424.25L553.22 426.82L556.26 429.39M404.40 435.94L401.37 438.52L404.40 441.09M416.09 435.94L413.05 438.52L416.09 441.09M427.77 435.94L424.73 438.52L427.77 441.09M439.45 435.94L436.41 438.52L439.45 441.09M462.81 435.94L459.77 438.52L462.81 441.09M509.54 435.94L506.50 438.52L509.54 441.09M521.22 435.94L518.18 438.52L521.22 441.09M532.90 435.94L529.86 438.52L532.90 441.09M544.58 435.94L541.54 438.52L544.58 441.09M439.45 447.64L436.41 450.21L439.45 452.78M451.13 447.64L448.09 450.21L451.13 452.78M497.85 447.64L494.82 450.21L497.85 452.78M509.54 447.64L506.50 450.21L509.54 452.78M310.95 459.33L307.92 461.90L310.95 464.48M322.64 459.33L319.60 461.90L322.64 464.48M334.32 459.33L331.28 461.90L334.32 464.48M346.00 459.33L342.96 461.90L346.00 464.48M497.85 459.33L494.82 461.90L497.85 464.48M591.30 459.33L588.27 461.90L591.30 464.48M602.99 459.33L599.95 461.90L602.99 464.48M614.67 459.33L611.63 461.90L614.67 464.48M626.35 459.33L623.31 461.90L626.35 464.48M638.03 459.33L634.99 461.90L638.03 464.48M649.71 459.33L646.67 461.90L649.71 464.48M229.19 471.02L226.15 473.60L229.19 476.17M240.87 471.02L237.83 473.60L240.87 476.17M252.55 471.02L249.51 473.60L252.55 476.17M381.04 471.02L378.01 473.60L381.04 476.17M392.72 471.02L389.69 473.60L392.72 476.17M532.90 471.02L529.86 473.60L532.90 476.17M544.58 471.02L541.54 473.60L544.58 476.17M556.26 471.02L553.22 473.60L556.26 476.17M591.30 471.02L588.27 473.60L591.30 476.17M602.99 471.02L599.95 473.60L602.99 476.17M661.39 471.02L658.36 473.60L661.39 476.17M673.07 471.02L670.04 473.60L673.07 476.17M684.75 471.02L681.72 473.60L684.75 476.17M696.44 471.02L693.40 473.60L696.44 476.17M205.82 482.72L202.79 485.29L205.82 487.86M217.50 482.72L214.47 485.29L217.50 487.86M229.19 482.72L226.15 485.29L229.19 487.86M357.68 482.72L354.64 485.29L357.68 487.86M404.40 482.72L401.37 485.29L404.40 487.86M416.09 482.72L413.05 485.29L416.09 487.86M521.22 482.72L518.18 485.29L521.22 487.86M532.90 482.72L529.86 485.29L532.90 487.86M544.58 482.72L541.54 485.29L544.58 487.86M567.94 482.72L564.91 485.29L567.94 487.86M579.62 482.72L576.59 485.29L579.62 487.86M404.40 494.41L401.37 496.98L404.40 499.56M416.09 494.41L413.05 496.98L416.09 499.56M427.77 494.41L424.73 496.98L427.77 499.56M474.49 494.41L471.46 496.98L474.49 499.56M509.54 494.41L506.50 496.98L509.54 499.56M310.95 506.11L307.92 508.68L310.95 511.25M404.40 506.11L401.37 508.68L404.40 511.25M416.09 506.11L413.05 508.68L416.09 511.25M462.81 506.11L459.77 508.68L462.81 511.25M474.49 506.11L471.46 508.68L474.49 511.25M509.54 506.11L506.50 508.68L509.54 511.25M369.36 517.80L366.32 520.37L369.36 522.94M381.04 517.80L378.01 520.37L381.04 522.94M404.40 517.80L401.37 520.37L404.40 522.94M416.09 517.80L413.05 520.37L416.09 522.94M462.81 517.80L459.77 520.37L462.81 522.94M521.22 517.80L518.18 520.37L521.22 522.94M404.40 529.49L401.37 532.07L404.40 534.64M416.09 529.49L413.05 532.07L416.09 534.64M486.17 529.49L483.14 532.07L486.17 534.64M521.22 529.49L518.18 532.07L521.22 534.64M416.09 541.19L413.05 543.76L416.09 546.33M474.49 541.19L471.46 543.76L474.49 546.33M521.22 541.19L518.18 543.76L521.22 546.33M532.90 541.19L529.86 543.76L532.90 546.33M404.40 552.88L401.37 555.45L404.40 558.03M416.09 552.88L413.05 555.45L416.09 558.03M427.77 552.88L424.73 555.45L427.77 558.03M451.13 552.88L448.09 555.45L451.13 558.03M474.49 552.88L471.46 555.45L474.49 558.03M532.90 552.88L529.86 555.45L532.90 558.03M381.04 564.57L378.01 567.15L381.04 569.72M392.72 564.57L389.69 567.15L392.72 569.72M404.40 564.57L401.37 567.15L404.40 569.72M439.45 564.57L436.41 567.15L439.45 569.72M462.81 564.57L459.77 567.15L462.81 569.72M474.49 564.57L471.46 567.15L474.49 569.72M532.90 564.57L529.86 567.15L532.90 569.72M544.58 564.57L541.54 567.15L544.58 569.72M404.40 576.27L401.37 578.84L404.40 581.41M439.45 576.27L436.41 578.84L439.45 581.41M462.81 576.27L459.77 578.84L462.81 581.41M474.49 576.27L471.46 578.84L474.49 581.41M556.26 576.27L553.22 578.84L556.26 581.41M404.40 587.96L401.37 590.53L404.40 593.11M474.49 587.96L471.46 590.53L474.49 593.11M544.58 587.96L541.54 590.53L544.58 593.11M451.13 599.66L448.09 602.23L451.13 604.80M544.58 599.66L541.54 602.23L544.58 604.80M100.69 611.35L97.66 613.92L100.69 616.49M381.04 611.35L378.01 613.92L381.04 616.49M451.13 611.35L448.09 613.92L451.13 616.49M462.81 611.35L459.77 613.92L462.81 616.49M556.26 611.35L553.22 613.92L556.26 616.49M100.69 623.04L97.66 625.62L100.69 628.19M381.04 623.04L378.01 625.62L381.04 628.19M451.13 623.04L448.09 625.62L451.13 628.19M462.81 623.04L459.77 625.62L462.81 628.19M556.26 623.04L553.22 625.62L556.26 628.19M567.94 623.04L564.91 625.62L567.94 628.19M579.62 623.04L576.59 625.62L579.62 628.19M824.93 623.04L821.89 625.62L824.93 628.19M112.37 634.74L109.34 637.31L112.37 639.88M369.36 634.74L366.32 637.31L369.36 639.88M462.81 634.74L459.77 637.31L462.81 639.88M567.94 634.74L564.91 637.31L567.94 639.88M579.62 634.74L576.59 637.31L579.62 639.88M824.93 634.74L821.89 637.31L824.93 639.88M112.37 646.43L109.34 649.00L112.37 651.58M567.94 646.43L564.91 649.00L567.94 651.58M579.62 646.43L576.59 649.00L579.62 651.58M591.30 646.43L588.27 649.00L591.30 651.58M813.25 646.43L810.21 649.00L813.25 651.58M824.93 646.43L821.89 649.00L824.93 651.58M124.05 658.12L121.02 660.70L124.05 663.27M229.19 658.12L226.15 660.70L229.19 663.27M346.00 658.12L342.96 660.70L346.00 663.27M579.62 658.12L576.59 660.70L579.62 663.27M124.05 669.82L121.02 672.39L124.05 674.96M135.74 669.82L132.70 672.39L135.74 674.96M217.50 669.82L214.47 672.39L217.50 674.96M287.59 669.82L284.56 672.39L287.59 674.96M299.27 669.82L296.24 672.39L299.27 674.96M334.32 669.82L331.28 672.39L334.32 674.96M591.30 669.82L588.27 672.39L591.30 674.96M638.03 669.82L634.99 672.39L638.03 674.96M649.71 669.82L646.67 672.39L649.71 674.96M147.42 681.51L144.38 684.08L147.42 686.66M159.10 681.51L156.06 684.08L159.10 686.66M287.59 681.51L284.56 684.08L287.59 686.66M299.27 681.51L296.24 684.08L299.27 686.66M602.99 681.51L599.95 684.08L602.99 686.66M638.03 681.51L634.99 684.08L638.03 686.66M649.71 681.51L646.67 684.08L649.71 686.66M778.20 681.51L775.17 684.08L778.20 686.66M159.10 693.21L156.06 695.78L159.10 698.35M381.04 693.21L378.01 695.78L381.04 698.35M544.58 693.21L541.54 695.78L544.58 698.35M766.52 693.21L763.49 695.78L766.52 698.35M182.46 704.90L179.42 707.47L182.46 710.04M194.14 704.90L191.11 707.47L194.14 710.04M381.04 704.90L378.01 707.47L381.04 710.04M556.26 704.90L553.22 707.47L556.26 710.04M754.84 704.90L751.81 707.47L754.84 710.04M205.82 716.59L202.79 719.17L205.82 721.74M369.36 716.59L366.32 719.17L369.36 721.74M556.26 716.59L553.22 719.17L556.26 721.74M217.50 728.29L214.47 730.86L217.50 733.43M346.00 728.29L342.96 730.86L346.00 733.43M357.68 728.29L354.64 730.86L357.68 733.43M567.94 728.29L564.91 730.86L567.94 733.43M579.62 728.29L576.59 730.86L579.62 733.43M719.80 728.29L716.76 730.86L719.80 733.43M731.48 728.29L728.44 730.86L731.48 733.43M229.19 739.98L226.15 742.55L229.19 745.13M322.64 739.98L319.60 742.55L322.64 745.13M334.32 739.98L331.28 742.55L334.32 745.13M346.00 739.98L342.96 742.55L346.00 745.13M579.62 739.98L576.59 742.55L579.62 745.13M591.30 739.98L588.27 742.55L591.30 745.13M264.23 751.67L261.19 754.25L264.23 756.82M275.91 751.67L272.87 754.25L275.91 756.82M287.59 751.67L284.56 754.25L287.59 756.82M299.27 751.67L296.24 754.25L299.27 756.82M310.95 751.67L307.92 754.25L310.95 756.82M322.64 751.67L319.60 754.25L322.64 756.82M334.32 751.67L331.28 754.25L334.32 756.82M591.30 751.67L588.27 754.25L591.30 756.82M602.99 751.67L599.95 754.25L602.99 756.82M614.67 751.67L611.63 754.25L614.67 756.82M626.35 751.67L623.31 754.25L626.35 756.82M638.03 751.67L634.99 754.25L638.03 756.82M649.71 751.67L646.67 754.25L649.71 756.82" stroke="#f3c8b8" stroke-width="1.1" fill="none"/>
<path d="M739.42 192.95H744.10M751.10 192.95H755.78M155.36 204.64H160.03M167.04 204.64H171.71M190.40 204.64H195.08M202.09 204.64H206.76M213.77 204.64H218.44M225.45 204.64H230.12M692.70 204.64H697.37M704.38 204.64H709.05M716.06 204.64H720.73M727.74 204.64H732.41M751.10 204.64H755.78M762.79 204.64H767.46M774.47 204.64H779.14M167.04 216.33H171.71M190.40 216.33H195.08M225.45 216.33H230.12M237.13 216.33H241.80M248.81 216.33H253.48M260.49 216.33H265.16M272.17 216.33H276.85M645.97 216.33H650.65M657.65 216.33H662.33M669.34 216.33H674.01M681.02 216.33H685.69M716.06 216.33H720.73M727.74 216.33H732.41M739.42 216.33H744.10M751.10 216.33H755.78M774.47 216.33H779.14M786.15 216.33H790.82M132.00 228.03H136.67M155.36 228.03H160.03M167.04 228.03H171.71M178.72 228.03H183.40M202.09 228.03H206.76M213.77 228.03H218.44M248.81 228.03H253.48M260.49 228.03H265.16M272.17 228.03H276.85M283.85 228.03H288.53M295.54 228.03H300.21M634.29 228.03H638.96M645.97 228.03H650.65M704.38 228.03H709.05M727.74 228.03H732.41M762.79 228.03H767.46M774.47 228.03H779.14M786.15 228.03H790.82M797.83 228.03H802.50M809.51 228.03H814.18M108.64 239.72H113.31M132.00 239.72H136.67M143.68 239.72H148.35M167.04 239.72H171.71M178.72 239.72H183.40M213.77 239.72H218.44M248.81 239.72H253.48M283.85 239.72H288.53M295.54 239.72H300.21M307.22 239.72H311.89M622.61 239.72H627.28M681.02 239.72H685.69M692.70 239.72H697.37M716.06 239.72H720.73M762.79 239.72H767.46M774.47 239.72H779.14M786.15 239.72H790.82M797.83 239.72H802.50M120.32 251.42H124.99M132.00 251.42H136.67M143.68 251.42H148.35M155.36 251.42H160.03M178.72 251.42H183.40M190.40 251.42H195.08M260.49 251.42H265.16M307.22 251.42H311.89M318.90 251.42H323.57M669.34 251.42H674.01M739.42 251.42H744.10M786.15 251.42H790.82M132.00 263.11H136.67M143.68 263.11H148.35M155.36 263.11H160.03M178.72 263.11H183.40M272.17 263.11H276.85M283.85 263.11H288.53M330.58 263.11H335.25M645.97 263.11H650.65M657.65 263.11H662.33M774.47 263.11H779.14M786.15 263.11H790.82M797.83 263.11H802.50M809.51 263.11H814.18M832.87 263.11H837.55M155.36 274.80H160.03M167.04 274.80H171.71M283.85 274.80H288.53M295.54 274.80H300.21M634.29 274.80H638.96M786.15 274.80H790.82M797.83 274.80H802.50M809.51 274.80H814.18M821.19 274.80H825.86M832.87 274.80H837.55M120.32 286.50H124.99M132.00 286.50H136.67M143.68 286.50H148.35M295.54 286.50H300.21M307.22 286.50H311.89M353.94 286.50H358.61M575.89 286.50H580.56M786.15 286.50H790.82M809.51 286.50H814.18M821.19 286.50H825.86M96.95 298.19H101.63M132.00 298.19H136.67M143.68 298.19H148.35M155.36 298.19H160.03M365.62 298.19H370.30M564.20 298.19H568.88M809.51 298.19H814.18M844.55 298.19H849.23M96.95 309.88H101.63M108.64 309.88H113.31M132.00 309.88H136.67M143.68 309.88H148.35M225.45 309.88H230.12M342.26 309.88H346.93M377.30 309.88H381.98M552.52 309.88H557.20M587.57 309.88H592.24M599.25 309.88H603.92M797.83 309.88H802.50M809.51 309.88H814.18M108.64 321.58H113.31M120.32 321.58H124.99M237.13 321.58H241.80M248.81 321.58H253.48M353.94 321.58H358.61M365.62 321.58H370.30M377.30 321.58H381.98M388.99 321.58H393.66M540.84 321.58H545.51M797.83 321.58H802.50M809.51 321.58H814.18M832.87 321.58H837.55M85.27 333.27H89.95M96.95 333.27H101.63M120.32 333.27H124.99M143.68 333.27H148.35M248.81 333.27H253.48M260.49 333.27H265.16M295.54 333.27H300.21M353.94 333.27H358.61M365.62 333.27H370.30M377.30 333.27H381.98M388.99 333.27H393.66M540.84 333.27H545.51M797.83 333.27H802.50M832.87 333.27H837.55M844.55 333.27H849.23M96.95 344.97H101.63M108.64 344.97H113.31M120.32 344.97H124.99M132.00 344.97H136.67M307.22 344.97H311.89M318.90 344.97H323.57M377.30 344.97H381.98M400.67 344.97H405.34M564.20 344.97H568.88M587.57 344.97H592.24M599.25 344.97H603.92M786.15 344.97H790.82M832.87 344.97H837.55M96.95 356.66H101.63M108.64 356.66H113.31M120.32 356.66H124.99M132.00 356.66H136.67M143.68 356.66H148.35M330.58 356.66H335.25M377.30 356.66H381.98M400.67 356.66H405.34M552.52 356.66H557.20M575.89 356.66H580.56M587.57 356.66H592.24M599.25 356.66H603.92M809.51 356.66H814.18M96.95 368.35H101.63M120.32 368.35H124.99M132.00 368.35H136.67M143.68 368.35H148.35M248.81 368.35H253.48M260.49 368.35H265.16M342.26 368.35H346.93M377.30 368.35H381.98M388.99 368.35H393.66M552.52 368.35H557.20M564.20 368.35H568.88M587.57 368.35H592.24M809.51 368.35H814.18M821.19 368.35H825.86M108.64 380.05H113.31M120.32 380.05H124.99M143.68 380.05H148.35M155.36 380.05H160.03M260.49 380.05H265.16M272.17 380.05H276.85M283.85 380.05H288.53M353.94 380.05H358.61M388.99 380.05H393.66M447.39 380.05H452.06M540.84 380.05H545.51M575.89 380.05H580.56M587.57 380.05H592.24M797.83 380.05H802.50M108.64 391.74H113.31M143.68 391.74H148.35M155.36 391.74H160.03M272.17 391.74H276.85M283.85 391.74H288.53M295.54 391.74H300.21M342.26 391.74H346.93M353.94 391.74H358.61M365.62 391.74H370.30M388.99 391.74H393.66M400.67 391.74H405.34M447.39 391.74H452.06M552.52 391.74H557.20M564.20 391.74H568.88M575.89 391.74H580.56M809.51 391.74H814.18M132.00 403.43H136.67M143.68 403.43H148.35M155.36 403.43H160.03M307.22 403.43H311.89M318.90 403.43H323.57M330.58 403.43H335.25M377.30 403.43H381.98M400.67 403.43H405.34M447.39 403.43H452.06M552.52 403.43H557.20M774.47 403.43H779.14M786.15 403.43H790.82M797.83 403.43H802.50M143.68 415.13H148.35M155.36 415.13H160.03M342.26 415.13H346.93M353.94 415.13H358.61M388.99 415.13H393.66M447.39 415.13H452.06M540.84 415.13H545.51M762.79 415.13H767.46M143.68 426.82H148.35M155.36 426.82H160.03M167.04 426.82H171.71M353.94 426.82H358.61M365.62 426.82H370.30M564.20 426.82H568.88M575.89 426.82H580.56M751.10 426.82H755.78M762.79 426.82H767.46M178.72 438.52H183.40M377.30 438.52H381.98M552.52 438.52H557.20M564.20 438.52H568.88M727.74 438.52H732.41M739.42 438.52H744.10M751.10 438.52H755.78M377.30 450.21H381.98M388.99 450.21H393.66M412.35 450.21H417.02M424.03 450.21H428.70M517.48 450.21H522.15M529.16 450.21H533.83M540.84 450.21H545.51M552.52 450.21H557.20M400.67 461.90H405.34M412.35 461.90H417.02M424.03 461.90H428.70M435.71 461.90H440.38M505.80 461.90H510.47M517.48 461.90H522.15M529.16 461.90H533.83M295.54 473.60H300.21M459.07 473.60H463.75M704.38 473.60H709.05M260.49 485.29H265.16M272.17 485.29H276.85M283.85 485.29H288.53M459.07 485.29H463.75M587.57 485.29H592.24M599.25 485.29H603.92M610.93 485.29H615.60M622.61 485.29H627.28M634.29 485.29H638.96M681.02 485.29H685.69M692.70 485.29H697.37M704.38 485.29H709.05M716.06 485.29H720.73M727.74 485.29H732.41M190.40 496.98H195.08M202.09 496.98H206.76M213.77 496.98H218.44M225.45 496.98H230.12M237.13 496.98H241.80M248.81 496.98H253.48M260.49 496.98H265.16M365.62 496.98H370.30M377.30 496.98H381.98M447.39 496.98H452.06M459.07 496.98H463.75M552.52 496.98H557.20M575.89 496.98H580.56M622.61 496.98H627.28M634.29 496.98H638.96M645.97 496.98H650.65M657.65 496.98H662.33M669.34 496.98H674.01M681.02 496.98H685.69M692.70 496.98H697.37M727.74 496.98H732.41M739.42 496.98H744.10M178.72 508.68H183.40M190.40 508.68H195.08M202.09 508.68H206.76M213.77 508.68H218.44M225.45 508.68H230.12M318.90 508.68H323.57M342.26 508.68H346.93M353.94 508.68H358.61M365.62 508.68H370.30M377.30 508.68H381.98M447.39 508.68H452.06M529.16 508.68H533.83M552.52 508.68H557.20M564.20 508.68H568.88M587.57 508.68H592.24M739.42 508.68H744.10M751.10 508.68H755.78M167.04 520.37H171.71M178.72 520.37H183.40M318.90 520.37H323.57M330.58 520.37H335.25M447.39 520.37H452.06M540.84 520.37H545.51M564.20 520.37H568.88M575.89 520.37H580.56M587.57 520.37H592.24M599.25 520.37H603.92M167.04 532.07H171.71M307.22 532.07H311.89M365.62 532.07H370.30M377.30 532.07H381.98M447.39 532.07H452.06M540.84 532.07H545.51M564.20 532.07H568.88M599.25 532.07H603.92M365.62 543.76H370.30M540.84 578.84H545.51M552.52 602.23H557.20M564.20 613.92H568.88M575.89 613.92H580.56M365.62 625.62H370.30M587.57 625.62H592.24M330.58 637.31H335.25M353.94 637.31H358.61M587.57 637.31H592.24M599.25 637.31H603.92M342.26 649.00H346.93M599.25 649.00H603.92M283.85 660.70H288.53M295.54 660.70H300.21M330.58 660.70H335.25M587.57 660.70H592.24M634.29 660.70H638.96M645.97 660.70H650.65M272.17 672.39H276.85M307.22 672.39H311.89M599.25 672.39H603.92M610.93 672.39H615.60M622.61 672.39H627.28M657.65 672.39H662.33M248.81 684.08H253.48M272.17 684.08H276.85M307.22 684.08H311.89M622.61 684.08H627.28M657.65 684.08H662.33M283.85 695.78H288.53M295.54 695.78H300.21M634.29 695.78H638.96M645.97 695.78H650.65" stroke="#8a4510" stroke-width="1.2" fill="none"/>
<path d="M704.38 253.05L706.72 249.78L709.05 253.05M295.54 264.75L297.87 261.47L300.21 264.75M634.29 264.75L636.63 261.47L638.96 264.75M681.02 264.75L683.35 261.47L685.69 264.75M692.70 264.75L695.03 261.47L697.37 264.75M202.09 276.44L204.42 273.17L206.76 276.44M213.77 276.44L216.10 273.17L218.44 276.44M225.45 276.44L227.78 273.17L230.12 276.44M237.13 276.44L239.47 273.17L241.80 276.44M248.81 276.44L251.15 273.17L253.48 276.44M307.22 276.44L309.55 273.17L311.89 276.44M318.90 276.44L321.23 273.17L323.57 276.44M610.93 276.44L613.27 273.17L615.60 276.44M622.61 276.44L624.95 273.17L627.28 276.44M669.34 276.44L671.67 273.17L674.01 276.44M681.02 276.44L683.35 273.17L685.69 276.44M248.81 288.13L251.15 284.86L253.48 288.13M260.49 288.13L262.83 284.86L265.16 288.13M272.17 288.13L274.51 284.86L276.85 288.13M318.90 288.13L321.23 284.86L323.57 288.13M330.58 288.13L332.92 284.86L335.25 288.13M599.25 288.13L601.58 284.86L603.92 288.13M610.93 288.13L613.27 284.86L615.60 288.13M657.65 288.13L659.99 284.86L662.33 288.13M167.04 299.83L169.38 296.55L171.71 299.83M272.17 299.83L274.51 296.55L276.85 299.83M283.85 299.83L286.19 296.55L288.53 299.83M330.58 299.83L332.92 296.55L335.25 299.83M342.26 299.83L344.60 296.55L346.93 299.83M587.57 299.83L589.90 296.55L592.24 299.83M599.25 299.83L601.58 296.55L603.92 299.83M634.29 299.83L636.63 296.55L638.96 299.83M645.97 299.83L648.31 296.55L650.65 299.83M178.72 311.52L181.06 308.25L183.40 311.52M190.40 311.52L192.74 308.25L195.08 311.52M202.09 311.52L204.42 308.25L206.76 311.52M283.85 311.52L286.19 308.25L288.53 311.52M295.54 311.52L297.87 308.25L300.21 311.52M353.94 311.52L356.28 308.25L358.61 311.52M575.89 311.52L578.22 308.25L580.56 311.52M622.61 311.52L624.95 308.25L627.28 311.52M692.70 311.52L695.03 308.25L697.37 311.52M704.38 311.52L706.72 308.25L709.05 311.52M202.09 323.22L204.42 319.94L206.76 323.22M681.02 323.22L683.35 319.94L685.69 323.22M692.70 323.22L695.03 319.94L697.37 323.22M786.15 323.22L788.48 319.94L790.82 323.22M202.09 334.91L204.42 331.63L206.76 334.91M213.77 334.91L216.10 331.63L218.44 334.91M657.65 334.91L659.99 331.63L662.33 334.91M669.34 334.91L671.67 331.63L674.01 334.91M681.02 334.91L683.35 331.63L685.69 334.91M762.79 334.91L765.12 331.63L767.46 334.91M774.47 334.91L776.80 331.63L779.14 334.91M213.77 346.60L216.10 343.33L218.44 346.60M225.45 346.60L227.78 343.33L230.12 346.60M622.61 346.60L624.95 343.33L627.28 346.60M634.29 346.60L636.63 343.33L638.96 346.60M727.74 346.60L730.08 343.33L732.41 346.60M739.42 346.60L741.76 343.33L744.10 346.60M751.10 346.60L753.44 343.33L755.78 346.60M762.79 346.60L765.12 343.33L767.46 346.60M237.13 358.30L239.47 355.02L241.80 358.30M248.81 358.30L251.15 355.02L253.48 358.30M260.49 358.30L262.83 355.02L265.16 358.30M272.17 358.30L274.51 355.02L276.85 358.30M318.90 358.30L321.23 355.02L323.57 358.30M610.93 358.30L613.27 355.02L615.60 358.30M622.61 358.30L624.95 355.02L627.28 358.30M716.06 358.30L718.40 355.02L720.73 358.30M751.10 358.30L753.44 355.02L755.78 358.30M272.17 369.99L274.51 366.72L276.85 369.99M283.85 369.99L286.19 366.72L288.53 369.99M669.34 369.99L671.67 366.72L674.01 369.99M681.02 369.99L683.35 366.72L685.69 369.99M692.70 369.99L695.03 366.72L697.37 369.99M704.38 369.99L706.72 366.72L709.05 369.99M260.49 393.38L262.83 390.10L265.16 393.38M225.45 405.07L227.78 401.80L230.12 405.07M237.13 405.07L239.47 401.80L241.80 405.07M248.81 405.07L251.15 401.80L253.48 405.07M272.17 405.07L274.51 401.80L276.85 405.07M283.85 405.07L286.19 401.80L288.53 405.07M202.09 416.77L204.42 413.49L206.76 416.77M213.77 416.77L216.10 413.49L218.44 416.77M225.45 416.77L227.78 413.49L230.12 416.77M237.13 428.46L239.47 425.18L241.80 428.46M295.54 440.15L297.87 436.88L300.21 440.15M307.22 440.15L309.55 436.88L311.89 440.15M318.90 440.15L321.23 436.88L323.57 440.15M330.58 440.15L332.92 436.88L335.25 440.15M342.26 440.15L344.60 436.88L346.93 440.15M353.94 440.15L356.28 436.88L358.61 440.15M365.62 440.15L367.96 436.88L370.30 440.15M575.89 440.15L578.22 436.88L580.56 440.15M587.57 440.15L589.90 436.88L592.24 440.15M599.25 440.15L601.58 436.88L603.92 440.15M610.93 440.15L613.27 436.88L615.60 440.15M622.61 440.15L624.95 436.88L627.28 440.15M634.29 440.15L636.63 436.88L638.96 440.15M365.62 451.85L367.96 448.57L370.30 451.85M564.20 451.85L566.54 448.57L568.88 451.85M178.72 498.62L181.06 495.35L183.40 498.62M716.06 498.62L718.40 495.35L720.73 498.62M751.10 498.62L753.44 495.35L755.78 498.62M155.36 510.32L157.70 507.04L160.03 510.32M167.04 510.32L169.38 507.04L171.71 510.32M727.74 510.32L730.08 507.04L732.41 510.32M762.79 510.32L765.12 507.04L767.46 510.32M774.47 510.32L776.80 507.04L779.14 510.32M786.15 510.32L788.48 507.04L790.82 510.32M797.83 510.32L800.17 507.04L802.50 510.32M143.68 522.01L146.02 518.73L148.35 522.01M155.36 522.01L157.70 518.73L160.03 522.01M669.34 522.01L671.67 518.73L674.01 522.01M681.02 522.01L683.35 518.73L685.69 522.01M751.10 522.01L753.44 518.73L755.78 522.01M762.79 522.01L765.12 518.73L767.46 522.01M786.15 522.01L788.48 518.73L790.82 522.01M132.00 533.70L134.33 530.43L136.67 533.70M143.68 533.70L146.02 530.43L148.35 533.70M202.09 533.70L204.42 530.43L206.76 533.70M692.70 533.70L695.03 530.43L697.37 533.70M704.38 533.70L706.72 530.43L709.05 533.70M762.79 533.70L765.12 530.43L767.46 533.70M786.15 533.70L788.48 530.43L790.82 533.70M797.83 533.70L800.17 530.43L802.50 533.70M132.00 545.40L134.33 542.12L136.67 545.40M167.04 545.40L169.38 542.12L171.71 545.40M178.72 545.40L181.06 542.12L183.40 545.40M190.40 545.40L192.74 542.12L195.08 545.40M272.17 545.40L274.51 542.12L276.85 545.40M283.85 545.40L286.19 542.12L288.53 545.40M552.52 545.40L554.86 542.12L557.20 545.40M564.20 545.40L566.54 542.12L568.88 545.40M704.38 545.40L706.72 542.12L709.05 545.40M716.06 545.40L718.40 542.12L720.73 545.40M774.47 545.40L776.80 542.12L779.14 545.40M809.51 545.40L811.85 542.12L814.18 545.40M120.32 557.09L122.65 553.82L124.99 557.09M178.72 557.09L181.06 553.82L183.40 557.09M202.09 557.09L204.42 553.82L206.76 557.09M260.49 557.09L262.83 553.82L265.16 557.09M342.26 557.09L344.60 553.82L346.93 557.09M575.89 557.09L578.22 553.82L580.56 557.09M716.06 557.09L718.40 553.82L720.73 557.09M774.47 557.09L776.80 553.82L779.14 557.09M120.32 568.78L122.65 565.51L124.99 568.78M167.04 568.78L169.38 565.51L171.71 568.78M248.81 568.78L251.15 565.51L253.48 568.78M353.94 568.78L356.28 565.51L358.61 568.78M552.52 568.78L554.86 565.51L557.20 568.78M575.89 568.78L578.22 565.51L580.56 568.78M727.74 568.78L730.08 565.51L732.41 568.78M237.13 580.48L239.47 577.20L241.80 580.48M248.81 580.48L251.15 577.20L253.48 580.48M342.26 580.48L344.60 577.20L346.93 580.48M377.30 580.48L379.64 577.20L381.98 580.48M388.99 580.48L391.32 577.20L393.66 580.48M564.20 580.48L566.54 577.20L568.88 580.48M727.74 580.48L730.08 577.20L732.41 580.48M786.15 580.48L788.48 577.20L790.82 580.48M225.45 592.17L227.78 588.90L230.12 592.17M237.13 592.17L239.47 588.90L241.80 592.17M307.22 592.17L309.55 588.90L311.89 592.17M318.90 592.17L321.23 588.90L323.57 592.17M330.58 592.17L332.92 588.90L335.25 592.17M552.52 592.17L554.86 588.90L557.20 592.17M564.20 592.17L566.54 588.90L568.88 592.17M786.15 592.17L788.48 588.90L790.82 592.17M797.83 592.17L800.17 588.90L802.50 592.17M225.45 603.87L227.78 600.59L230.12 603.87M295.54 603.87L297.87 600.59L300.21 603.87M307.22 603.87L309.55 600.59L311.89 603.87M353.94 603.87L356.28 600.59L358.61 603.87M377.30 603.87L379.64 600.59L381.98 603.87M564.20 603.87L566.54 600.59L568.88 603.87M575.89 603.87L578.22 600.59L580.56 603.87M248.81 615.56L251.15 612.28L253.48 615.56M108.64 627.25L110.97 623.98L113.31 627.25M237.13 627.25L239.47 623.98L241.80 627.25M248.81 627.25L251.15 623.98L253.48 627.25M272.17 627.25L274.51 623.98L276.85 627.25M120.32 638.95L122.65 635.67L124.99 638.95M237.13 638.95L239.47 635.67L241.80 638.95M260.49 638.95L262.83 635.67L265.16 638.95M786.15 638.95L788.48 635.67L790.82 638.95M120.32 650.64L122.65 647.37L124.99 650.64M132.00 650.64L134.33 647.37L136.67 650.64M225.45 650.64L227.78 647.37L230.12 650.64M237.13 650.64L239.47 647.37L241.80 650.64M248.81 650.64L251.15 647.37L253.48 650.64M260.49 650.64L262.83 647.37L265.16 650.64M774.47 650.64L776.80 647.37L779.14 650.64M786.15 650.64L788.48 647.37L790.82 650.64M132.00 662.33L134.33 659.06L136.67 662.33M143.68 662.33L146.02 659.06L148.35 662.33M248.81 662.33L251.15 659.06L253.48 662.33M786.15 662.33L788.48 659.06L790.82 662.33M797.83 662.33L800.17 659.06L802.50 662.33M143.68 674.03L146.02 670.75L148.35 674.03M155.36 674.03L157.70 670.75L160.03 674.03M318.90 674.03L321.23 670.75L323.57 674.03M774.47 674.03L776.80 670.75L779.14 674.03M786.15 674.03L788.48 670.75L790.82 674.03M167.04 685.72L169.38 682.45L171.71 685.72M318.90 685.72L321.23 682.45L323.57 685.72M762.79 685.72L765.12 682.45L767.46 685.72M167.04 697.42L169.38 694.14L171.71 697.42M178.72 697.42L181.06 694.14L183.40 697.42M307.22 697.42L309.55 694.14L311.89 697.42M318.90 697.42L321.23 694.14L323.57 697.42M622.61 697.42L624.95 694.14L627.28 697.42M751.10 697.42L753.44 694.14L755.78 697.42M202.09 709.11L204.42 705.83L206.76 709.11M283.85 709.11L286.19 705.83L288.53 709.11M295.54 709.11L297.87 705.83L300.21 709.11M307.22 709.11L309.55 705.83L311.89 709.11M622.61 709.11L624.95 705.83L627.28 709.11M634.29 709.11L636.63 705.83L638.96 709.11M645.97 709.11L648.31 705.83L650.65 709.11M739.42 709.11L741.76 705.83L744.10 709.11M213.77 720.80L216.10 717.53L218.44 720.80M307.22 720.80L309.55 717.53L311.89 720.80M622.61 720.80L624.95 717.53L627.28 720.80M716.06 720.80L718.40 717.53L720.73 720.80M727.74 720.80L730.08 717.53L732.41 720.80M225.45 732.50L227.78 729.22L230.12 732.50M307.22 732.50L309.55 729.22L311.89 732.50M318.90 732.50L321.23 729.22L323.57 732.50M587.57 732.50L589.90 729.22L592.24 732.50M610.93 732.50L613.27 729.22L615.60 732.50M307.22 744.19L309.55 740.92L311.89 744.19M599.25 744.19L601.58 740.92L603.92 744.19M610.93 744.19L613.27 740.92L615.60 744.19" stroke="#4a3a1c" stroke-width="0.9" fill="none"/>
<path d="M11.68 0V935.50M0 11.69H934.50M23.36 0V935.50M0 23.39H934.50M35.04 0V935.50M0 35.08H934.50M46.73 0V935.50M0 46.77H934.50M58.41 0V935.50M0 58.47H934.50M70.09 0V935.50M0 70.16H934.50M81.77 0V935.50M0 81.86H934.50M93.45 0V935.50M0 93.55H934.50M105.13 0V935.50M0 105.24H934.50M116.81 0V935.50M0 116.94H934.50M128.49 0V935.50M0 128.63H934.50M140.18 0V935.50M0 140.32H934.50M151.86 0V935.50M0 152.02H934.50M163.54 0V935.50M0 163.71H934.50M175.22 0V935.50M0 175.41H934.50M186.90 0V935.50M0 187.10H934.50M198.58 0V935.50M0 198.79H934.50M210.26 0V935.50M0 210.49H934.50M221.94 0V935.50M0 222.18H934.50M233.62 0V935.50M0 233.88H934.50M245.31 0V935.50M0 245.57H934.50M256.99 0V935.50M0 257.26H934.50M268.67 0V935.50M0 268.96H934.50M280.35 0V935.50M0 280.65H934.50M292.03 0V935.50M0 292.34H934.50M303.71 0V935.50M0 304.04H934.50M315.39 0V935.50M0 315.73H934.50M327.07 0V935.50M0 327.43H934.50M338.76 0V935.50M0 339.12H934.50M350.44 0V935.50M0 350.81H934.50M362.12 0V935.50M0 362.51H934.50M373.80 0V935.50M0 374.20H934.50M385.48 0V935.50M0 385.89H934.50M397.16 0V935.50M0 397.59H934.50M408.84 0V935.50M0 409.28H934.50M420.53 0V935.50M0 420.97H934.50M432.21 0V935.50M0 432.67H934.50M443.89 0V935.50M0 444.36H934.50M455.57 0V935.50M0 456.06H934.50M467.25 0V935.50M0 467.75H934.50M478.93 0V935.50M0 479.44H934.50M490.61 0V935.50M0 491.14H934.50M502.29 0V935.50M0 502.83H934.50M513.98 0V935.50M0 514.52H934.50M525.66 0V935.50M0 526.22H934.50M537.34 0V935.50M0 537.91H934.50M549.02 0V935.50M0 549.61H934.50M560.70 0V935.50M0 561.30H934.50M572.38 0V935.50M0 572.99H934.50M584.06 0V935.50M0 584.69H934.50M595.74 0V935.50M0 596.38H934.50M607.43 0V935.50M0 608.07H934.50M619.11 0V935.50M0 619.77H934.50M630.79 0V935.50M0 631.46H934.50M642.47 0V935.50M0 643.16H934.50M654.15 0V935.50M0 654.85H934.50M665.83 0V935.50M0 666.54H934.50M677.51 0V935.50M0 678.24H934.50M689.19 0V935.50M0 689.93H934.50M700.88 0V935.50M0 701.62H934.50M712.56 0V935.50M0 713.32H934.50M724.24 0V935.50M0 725.01H934.50M735.92 0V935.50M0 736.71H934.50M747.60 0V935.50M0 748.40H934.50M759.28 0V935.50M0 760.09H934.50M770.96 0V935.50M0 771.79H934.50M782.64 0V935.50M0 783.48H934.50M794.33 0V935.50M0 795.17H934.50M806.01 0V935.50M0 806.87H934.50M817.69 0V935.50M0 818.56H934.50M829.37 0V935.50M0 830.26H934.50M841.05 0V935.50M0 841.95H934.50M852.73 0V935.50M0 853.64H934.50M864.41 0V935.50M0 865.34H934.50M876.09 0V935.50M0 877.03H934.50M887.77 0V935.50M0 888.73H934.50M899.46 0V935.50M0 900.42H934.50M911.14 0V935.50M0 912.11H934.50M922.82 0V935.50M0 923.81H934.50" stroke="#ffffff" stroke-opacity="0.3" stroke-width="0.9" fill="none"/>
<path d="M256.99 210.49 L233.62 210.49 L233.62 198.79 L186.90 198.79 L186.90 210.49 L163.54 210.49 L163.54 222.18 L140.18 222.18 L140.18 233.88 L128.49 233.88 L128.49 245.57 L116.81 245.57 L116.81 257.26 L128.49 257.26 L128.49 268.96 L116.81 268.96 L116.81 292.34 L105.13 292.34 L105.13 315.73 L93.45 315.73 L93.45 374.20 L105.13 374.20 L105.13 397.59 L116.81 397.59 L116.81 385.89 L128.49 385.89 L128.49 374.20 L140.18 374.20 L140.18 397.59 L128.49 397.59 L128.49 409.28 L140.18 409.28 L140.18 432.67M93.45 327.43 L81.77 327.43 L81.77 339.12 L93.45 339.12M140.18 222.18 L186.90 222.18 L186.90 233.88 L210.26 233.88 L210.26 245.57 L221.94 245.57 L221.94 257.26 L233.62 257.26 L233.62 268.96 L256.99 268.96 L256.99 280.65 L292.03 280.65 L292.03 292.34 L327.07 292.34 L327.07 304.04 L350.44 304.04 L350.44 315.73 L362.12 315.73 L362.12 327.43 L373.80 327.43 L373.80 339.12 L385.48 339.12 L385.48 362.51M128.49 245.57 L175.22 245.57 L175.22 257.26 L210.26 257.26 L210.26 268.96 L233.62 268.96M151.86 292.34 L186.90 292.34 L186.90 304.04 L210.26 304.04 L210.26 315.73 L233.62 315.73 L233.62 327.43 L268.67 327.43 L268.67 339.12 L315.39 339.12 L315.39 350.81 L338.76 350.81 L338.76 362.51M151.86 292.34 L151.86 304.04 L140.18 304.04 L140.18 315.73 L151.86 315.73 L151.86 327.43 L163.54 327.43 L163.54 339.12 L186.90 339.12 L186.90 350.81 L210.26 350.81 L210.26 362.51 L221.94 362.51 L221.94 374.20 L292.03 374.20 L292.03 385.89 L303.71 385.89 L303.71 397.59 L245.31 397.59 L245.31 409.28 L198.58 409.28 L198.58 420.97 L175.22 420.97 L175.22 432.67M303.71 397.59 L338.76 397.59 L338.76 409.28 L362.12 409.28 L362.12 420.97 L397.16 420.97M338.76 362.51 L362.12 362.51 L362.12 374.20 L385.48 374.20M385.48 362.51 L385.48 385.89 L397.16 385.89M408.84 374.20 L397.16 374.20 L397.16 432.67 L420.53 432.67 L420.53 444.36 L443.89 444.36M408.84 374.20 L408.84 385.89 L420.53 385.89 L420.53 409.28 L432.21 409.28 L432.21 420.97 L443.89 420.97M665.83 198.79 L665.83 210.49 L689.19 210.49 L689.19 198.79 L735.92 198.79 L735.92 187.10 L759.28 187.10 L759.28 198.79 L782.64 198.79 L782.64 210.49 L794.33 210.49 L794.33 222.18 L817.69 222.18 L817.69 233.88 L806.01 233.88 L806.01 245.57 L770.96 245.57 L770.96 257.26 L724.24 257.26 L724.24 268.96 L665.83 268.96 L665.83 280.65 L654.15 280.65 L654.15 292.34 L619.11 292.34 L619.11 304.04 L607.43 304.04 L607.43 315.73 L584.06 315.73 L584.06 327.43 L572.38 327.43 L572.38 339.12 L560.70 339.12 L560.70 350.81 L549.02 350.81 L549.02 374.20 L537.34 374.20 L537.34 385.89 L513.98 385.89 L513.98 397.59 L502.29 397.59 L502.29 420.97 L490.61 420.97M817.69 233.88 L817.69 268.96 L829.37 268.96 L829.37 304.04 L841.05 304.04 L841.05 362.51 L829.37 362.51 L829.37 385.89 L817.69 385.89 L817.69 397.59 L806.01 397.59 L806.01 409.28 L794.33 409.28 L794.33 420.97 L770.96 420.97 L770.96 432.67M595.74 409.28 L607.43 409.28 L607.43 397.59 L630.79 397.59 L630.79 385.89 L665.83 385.89 L665.83 374.20 L700.88 374.20 L700.88 362.51 L724.24 362.51 L724.24 350.81 L747.60 350.81 L747.60 339.12 L759.28 339.12 L759.28 327.43 L782.64 327.43 L782.64 304.04 L770.96 304.04 L770.96 292.34 L724.24 292.34 L724.24 304.04 L689.19 304.04 L689.19 315.73 L677.51 315.73 L677.51 327.43 L654.15 327.43 L654.15 339.12 L619.11 339.12 L619.11 350.81 L607.43 350.81 L607.43 362.51 L584.06 362.51 L584.06 374.20 L572.38 374.20 L572.38 385.89 L549.02 385.89 L549.02 397.59 L537.34 397.59 L537.34 420.97 L525.66 420.97 L525.66 432.67M490.61 444.36 L513.98 444.36 L513.98 432.67 L549.02 432.67 L549.02 420.97 L595.74 420.97 L595.74 409.28 L677.51 409.28 L677.51 420.97 L724.24 420.97 L724.24 432.67 L759.28 432.67M537.34 467.75 L549.02 467.75 L549.02 479.44 L560.70 479.44 L560.70 491.14 L619.11 491.14 L619.11 502.83 L630.79 502.83 L630.79 526.22 L642.47 526.22 L642.47 537.91 L677.51 537.91 L677.51 549.61 L700.88 549.61 L700.88 561.30 L712.56 561.30 L712.56 584.69 L724.24 584.69 L724.24 596.38 L747.60 596.38 L747.60 608.07 L782.64 608.07 L782.64 619.77 L806.01 619.77 L806.01 631.46 L817.69 631.46M584.06 514.52 L584.06 526.22 L595.74 526.22 L595.74 549.61 L607.43 549.61 L607.43 572.99 L619.11 572.99 L619.11 584.69 L642.47 584.69 L642.47 608.07 L654.15 608.07 L654.15 619.77 L665.83 619.77 L665.83 631.46 L677.51 631.46 L677.51 666.54 L689.19 666.54 L689.19 701.62 L677.51 701.62 L677.51 725.01 L665.83 725.01 L665.83 748.40M654.15 537.91 L654.15 549.61 L665.83 549.61 L665.83 561.30 L677.51 561.30 L677.51 584.69 L689.19 584.69 L689.19 596.38 L700.88 596.38 L700.88 608.07 L712.56 608.07 L712.56 619.77 L724.24 619.77 L724.24 631.46 L735.92 631.46 L735.92 654.85 L747.60 654.85 L747.60 678.24 L735.92 678.24 L735.92 701.62M630.79 584.69 L630.79 608.07 L619.11 608.07 L619.11 619.77 L607.43 619.77 L607.43 678.24 L619.11 678.24 L619.11 725.01 L607.43 725.01 L607.43 748.40M397.16 467.75 L397.16 479.44 L362.12 479.44 L362.12 491.14 L338.76 491.14 L338.76 502.83 L303.71 502.83 L303.71 514.52 L292.03 514.52 L292.03 526.22 L268.67 526.22 L268.67 537.91 L245.31 537.91 L245.31 549.61 L233.62 549.61 L233.62 561.30 L221.94 561.30 L221.94 572.99 L198.58 572.99 L198.58 584.69 L186.90 584.69 L186.90 596.38 L163.54 596.38 L163.54 608.07 L140.18 608.07 L140.18 619.77 L128.49 619.77 L128.49 631.46 L116.81 631.46M268.67 537.91 L268.67 549.61 L256.99 549.61 L256.99 572.99 L245.31 572.99 L245.31 584.69 L233.62 584.69 L233.62 608.07 L221.94 608.07 L221.94 619.77 L210.26 619.77 L210.26 631.46 L198.58 631.46 L198.58 643.16 L186.90 643.16 L186.90 654.85 L198.58 654.85 L198.58 678.24 L186.90 678.24 L186.90 689.93 L175.22 689.93 L175.22 701.62 L163.54 701.62 L163.54 713.32M432.21 467.75 L432.21 479.44 L420.53 479.44 L420.53 491.14 L408.84 491.14 L408.84 502.83 L385.48 502.83 L385.48 514.52 L373.80 514.52 L373.80 526.22 L362.12 526.22 L362.12 561.30 L350.44 561.30 L350.44 596.38 L338.76 596.38 L338.76 608.07 L327.07 608.07 L327.07 701.62 L303.71 701.62 L303.71 736.71 L292.03 736.71 L292.03 760.09M362.12 526.22 L350.44 526.22 L350.44 537.91 L338.76 537.91 L338.76 572.99 L327.07 572.99 L327.07 584.69 L303.71 584.69 L303.71 596.38 L292.03 596.38 L292.03 608.07 L280.35 608.07 L280.35 619.77 L268.67 619.77 L268.67 643.16 L256.99 643.16 L256.99 666.54 L245.31 666.54 L245.31 713.32 L233.62 713.32 L233.62 725.01 L221.94 725.01 L221.94 736.71" stroke="#c9bfbb" stroke-width="2.6" fill="none" stroke-linejoin="miter" stroke-linecap="square"/>
<path d="M116.81 0V935.50M0 116.94H934.50M233.62 0V935.50M0 233.88H934.50M350.44 0V935.50M0 350.81H934.50M467.25 0V935.50M0 467.75H934.50M584.06 0V935.50M0 584.69H934.50M700.88 0V935.50M0 701.62H934.50M817.69 0V935.50M0 818.56H934.50" stroke="#3e3636" stroke-width="1.1" fill="none"/>
<path d="M280.35 654.85 L303.71 654.85 L303.71 666.54 L315.39 666.54 L315.39 689.93 L303.71 689.93 L303.71 701.62 L280.35 701.62 L280.35 689.93 L268.67 689.93 L268.67 666.54 L280.35 666.54Z" stroke="#ea4e1c" stroke-width="2.6" fill="none"/>
<path d="M630.79 654.85 L654.15 654.85 L654.15 666.54 L665.83 666.54 L665.83 689.93 L654.15 689.93 L654.15 701.62 L630.79 701.62 L630.79 689.93 L619.11 689.93 L619.11 666.54 L630.79 666.54Z" stroke="#ea4e1c" stroke-width="2.6" fill="none"/>
<rect x="0" y="0" width="934.50" height="935.50" fill="none" stroke="#5a5454" stroke-width="2"/>
</g>

<path d="M420.5 380.5L432 379.9L445.1 392.4L433 394.1Z" fill="#2a1a14"/>
<path d="M618 379.9L632.1 381L621.8 393.7L608.6 394.1Z" fill="#2a1a14"/>
<path d="M440 391 L469.2 404 L491.2 428.2 L502.2 446.8 L515.3 488" stroke="#2a1a14" stroke-width="3" fill="none" stroke-linejoin="round"/>
<path d="M613 392 L585.6 405.1 L561.4 428.2 L550.4 451.2 L538.4 488" stroke="#2a1a14" stroke-width="3" fill="none" stroke-linejoin="round"/>
<path d="M468.2 417.2 L491.2 428.2 L513.1 453.4 L537.3 486.3" stroke="#cfcaca" stroke-width="2.6" fill="none"/>
<path d="M629.4 407.3 L592.1 429.2 L563.6 457.8 L552.5 490 L549.5 517" stroke="#cfcaca" stroke-width="2.6" fill="none"/>
<path d="M446 415 L455 406 M452 417 L461 408" stroke="#cfcaca" stroke-width="2.4" fill="none"/>
<path d="M514.4 512 L514.4 492 Q514.4 486.3 520 486.3 L533.3 486.3 Q538.9 486.3 538.9 492 L538.9 512 L550.5 521.4 L550.5 586.7 L538.9 601.9 L550.8 614.4 L558 643.3 L560.9 672.1 L560.9 715.4 L556.5 737 L545 773.1 L527.5 801.9 L526.3 801.9 L513.3 787.5 L498.8 744.2 L491.6 715.4 L491.6 672.1 L497.4 643.3 L503.2 615.9 L514.4 601.9 L503.9 586.7 L503.9 521.4 Z" stroke="#2a1a14" stroke-width="3.2" fill="none" stroke-linejoin="round"/>
<path d="M338.6 603.5 L457.5 603.5 L457.5 615.5 L503.9 615.5" stroke="#2a1a14" stroke-width="3.2" fill="none"/>
<path d="M713.5 604.5 L596 604.5 L596 616 L550.5 616" stroke="#2a1a14" stroke-width="3.2" fill="none"/>

</svg>
<div class="t kr" style="left:61px;top:110px;font-size:23.3px;line-height:1.2;font-weight:700;letter-spacing:0px;transform:scaleX(0.87);transform-origin:0 0;">노란나비</div>
<div class="t kr stk" style="left:144px;top:111px;font-size:20.5px;line-height:1.2;font-weight:400;letter-spacing:0.9px;transform:scaleX(1.06);transform-origin:0 0;">Clossiana perryi</div>
<div class="t kr" style="left:629px;top:1051px;font-size:15.5px;line-height:1.2;font-weight:400;letter-spacing:0px;transform:scaleX(0.96);transform-origin:0 0;">본 도안은 불법복사 또는 인터넷 전송을 할 수 없습니다.</div>
<div class="t kr" style="left:78px;top:1303.5px;font-size:20.5px;line-height:1.2;font-weight:400;letter-spacing:0px;transform:scaleX(0.81);transform-origin:0 0;">그림자 효과는 1올로 수 놓으시는것이 좋습니다.</div>
<div class="t kr" style="left:221px;top:1392px;font-size:21px;line-height:1.2;font-weight:400;letter-spacing:0px;transform:scaleX(0.796);transform-origin:0 0;">본 나비 도안은 14Count 또는 18count 흰색 원단 이나 오로라 화이트 원단을 추천합니다.</div>
<div class="t sf" style="left:77px;top:1138.3px;font-size:21px;line-height:1;letter-spacing:0px;">Color</div>
<div class="t sf" style="left:177px;top:1138.3px;font-size:21px;line-height:1;letter-spacing:0px;">DMC</div>
<div class="t sf" style="left:242px;top:1138.3px;font-size:21px;line-height:1;letter-spacing:0px;">Anchor</div>
<div class="t sf" style="left:377.5px;top:1138.3px;font-size:21px;line-height:1;letter-spacing:0px;">Color</div>
<div class="t sf" style="left:477px;top:1138.3px;font-size:21px;line-height:1;letter-spacing:0px;">DMC</div>
<div class="t sf" style="left:542px;top:1138.3px;font-size:21px;line-height:1;letter-spacing:0px;">Anchor</div>
<div class="t sf" style="left:699px;top:1137.8px;font-size:21px;line-height:1;letter-spacing:0px;">Backstitch</div>
<div class="t sf" style="left:797.5px;top:1137.8px;font-size:21px;line-height:1;letter-spacing:0px;">DMC</div>
<div class="t sf" style="left:863px;top:1137.8px;font-size:21px;line-height:1;letter-spacing:0px;">Anchor</div>
<div class="t sf" style="left:177px;top:1173.9px;font-size:16px;line-height:1;letter-spacing:0px;">415</div>
<div class="t sf" style="left:245px;top:1173.9px;font-size:16px;line-height:1;letter-spacing:0px;">398</div>
<div class="t sf" style="left:177px;top:1205.3px;font-size:16px;line-height:1;letter-spacing:0px;">741</div>
<div class="t sf" style="left:245px;top:1205.3px;font-size:16px;line-height:1;letter-spacing:0px;">304</div>
<div class="t sf" style="left:177px;top:1237.5px;font-size:16px;line-height:1;letter-spacing:0px;">742</div>
<div class="t sf" style="left:245px;top:1237.5px;font-size:16px;line-height:1;letter-spacing:0px;">303</div>
<div class="t sf" style="left:177px;top:1269.7px;font-size:16px;line-height:1;letter-spacing:0px;">743</div>
<div class="t sf" style="left:245px;top:1269.7px;font-size:16px;line-height:1;letter-spacing:0px;">302</div>
<div class="t sf" style="left:479px;top:1174.9px;font-size:16px;line-height:1;letter-spacing:0px;">745</div>
<div class="t sf" style="left:545px;top:1174.9px;font-size:16px;line-height:1;letter-spacing:0px;">300</div>
<div class="t sf" style="left:479px;top:1207.1px;font-size:16px;line-height:1;letter-spacing:0px;">900</div>
<div class="t sf" style="left:545px;top:1207.1px;font-size:16px;line-height:1;letter-spacing:0px;">333</div>
<div class="t sf" style="left:479px;top:1238.8px;font-size:16px;line-height:1;letter-spacing:0px;">918</div>
<div class="t sf" style="left:545px;top:1238.8px;font-size:16px;line-height:1;letter-spacing:0px;">341</div>
<div class="t sf" style="left:479px;top:1271.0px;font-size:16px;line-height:1;letter-spacing:0px;">938</div>
<div class="t sf" style="left:545px;top:1271.0px;font-size:16px;line-height:1;letter-spacing:0px;">381</div>
<div class="t sf" style="left:797px;top:1179.7px;font-size:16px;line-height:1;letter-spacing:0px;">310</div>
<div class="t sf" style="left:862px;top:1179.7px;font-size:16px;line-height:1;letter-spacing:0px;">403</div>
<div class="t sf" style="left:797px;top:1211.7px;font-size:16px;line-height:1;letter-spacing:0px;">415</div>
<div class="t sf" style="left:862px;top:1211.7px;font-size:16px;line-height:1;letter-spacing:0px;">398</div>
<div class="t sf" style="left:797px;top:1243.8px;font-size:16px;line-height:1;letter-spacing:0px;">900</div>
<div class="t sf" style="left:862px;top:1243.8px;font-size:16px;line-height:1;letter-spacing:0px;">333</div>
<div class="t sf" style="left:797px;top:1276.5px;font-size:16px;line-height:1;letter-spacing:0px;">5283</div>
<div class="t kr" style="left:862px;top:1276.1px;font-size:16.5px;line-height:1;letter-spacing:2.4px;">(메탈릭사 은사)</div>
<svg width="1048" height="1456" style="position:absolute;left:0;top:0;"><line x1="73" y1="1163" x2="315" y2="1163" stroke="#8a8484" stroke-width="1" stroke-dasharray="2 2.2"/><line x1="373" y1="1163.5" x2="615" y2="1163.5" stroke="#8a8484" stroke-width="1" stroke-dasharray="2 2.2"/><line x1="695" y1="1166" x2="937" y2="1166" stroke="#8a8484" stroke-width="1" stroke-dasharray="2 2.2"/><rect x="77.5" y="1171" width="54" height="17.5" fill="#d6cdcb" stroke="#3a3030" stroke-width="1"/><line x1="95.5" y1="1171" x2="95.5" y2="1188.5" stroke="#3a3030" stroke-width="1"/><line x1="113.5" y1="1171" x2="113.5" y2="1188.5" stroke="#3a3030" stroke-width="1"/><rect x="77.5" y="1203.5" width="54" height="17.5" fill="#f39a1a" stroke="#3a3030" stroke-width="1"/><line x1="95.5" y1="1203.5" x2="95.5" y2="1221.0" stroke="#3a3030" stroke-width="1"/><line x1="113.5" y1="1203.5" x2="113.5" y2="1221.0" stroke="#3a3030" stroke-width="1"/><path d="M82.5 1212.2H90.5" stroke="#a05010" stroke-width="1" fill="none"/><path d="M100.5 1212.2H108.5" stroke="#a05010" stroke-width="1" fill="none"/><path d="M118.5 1212.2H126.5" stroke="#a05010" stroke-width="1" fill="none"/><rect x="77.5" y="1237" width="54" height="17.5" fill="#f7b215" stroke="#3a3030" stroke-width="1"/><line x1="95.5" y1="1237" x2="95.5" y2="1254.5" stroke="#3a3030" stroke-width="1"/><line x1="113.5" y1="1237" x2="113.5" y2="1254.5" stroke="#3a3030" stroke-width="1"/><rect x="77.5" y="1269" width="54" height="17.5" fill="#f9d61c" stroke="#3a3030" stroke-width="1"/><line x1="95.5" y1="1269" x2="95.5" y2="1286.5" stroke="#3a3030" stroke-width="1"/><line x1="113.5" y1="1269" x2="113.5" y2="1286.5" stroke="#3a3030" stroke-width="1"/><rect x="375.5" y="1171" width="53" height="17.5" fill="#fbf3ac" stroke="#3a3030" stroke-width="1"/><line x1="393.2" y1="1171" x2="393.2" y2="1188.5" stroke="#3a3030" stroke-width="1"/><line x1="410.8" y1="1171" x2="410.8" y2="1188.5" stroke="#3a3030" stroke-width="1"/><path d="M380.3 1182.8L384.3 1176.8L388.3 1182.8" stroke="#1a1a1a" stroke-width="1.6" fill="none"/><path d="M398.0 1182.8L402.0 1176.8L406.0 1182.8" stroke="#1a1a1a" stroke-width="1.6" fill="none"/><path d="M415.7 1182.8L419.7 1176.8L423.7 1182.8" stroke="#1a1a1a" stroke-width="1.6" fill="none"/><rect x="375.5" y="1204.5" width="53" height="17.5" fill="#ee3e18" stroke="#3a3030" stroke-width="1"/><line x1="393.2" y1="1204.5" x2="393.2" y2="1222.0" stroke="#3a3030" stroke-width="1"/><line x1="410.8" y1="1204.5" x2="410.8" y2="1222.0" stroke="#3a3030" stroke-width="1"/><rect x="375.5" y="1236.5" width="53" height="17.5" fill="#b42e1c" stroke="#3a3030" stroke-width="1"/><line x1="393.2" y1="1236.5" x2="393.2" y2="1254.0" stroke="#3a3030" stroke-width="1"/><line x1="410.8" y1="1236.5" x2="410.8" y2="1254.0" stroke="#3a3030" stroke-width="1"/><path d="M386.8 1241.2L381.8 1245.2L386.8 1249.2" stroke="#f6e0d8" stroke-width="1.8" fill="none"/><path d="M404.5 1241.2L399.5 1245.2L404.5 1249.2" stroke="#f6e0d8" stroke-width="1.8" fill="none"/><path d="M422.2 1241.2L417.2 1245.2L422.2 1249.2" stroke="#f6e0d8" stroke-width="1.8" fill="none"/><rect x="375.5" y="1267" width="53" height="17.5" fill="#2c1410" stroke="#3a3030" stroke-width="1"/><line x1="393.2" y1="1267" x2="393.2" y2="1284.5" stroke="#3a3030" stroke-width="1"/><line x1="410.8" y1="1267" x2="410.8" y2="1284.5" stroke="#3a3030" stroke-width="1"/><rect x="697" y="1183.1" width="54" height="5" fill="#141010"/><rect x="697" y="1214.5" width="54" height="5" fill="#d8d4d2" stroke="#6a6262" stroke-width="0.8"/><rect x="697" y="1248.7" width="54" height="5" fill="#d84828"/><rect x="697" y="1281.1" width="54" height="5" fill="#b4aaa6" stroke="#6a6262" stroke-width="0.8"/></svg>
</body></html>
